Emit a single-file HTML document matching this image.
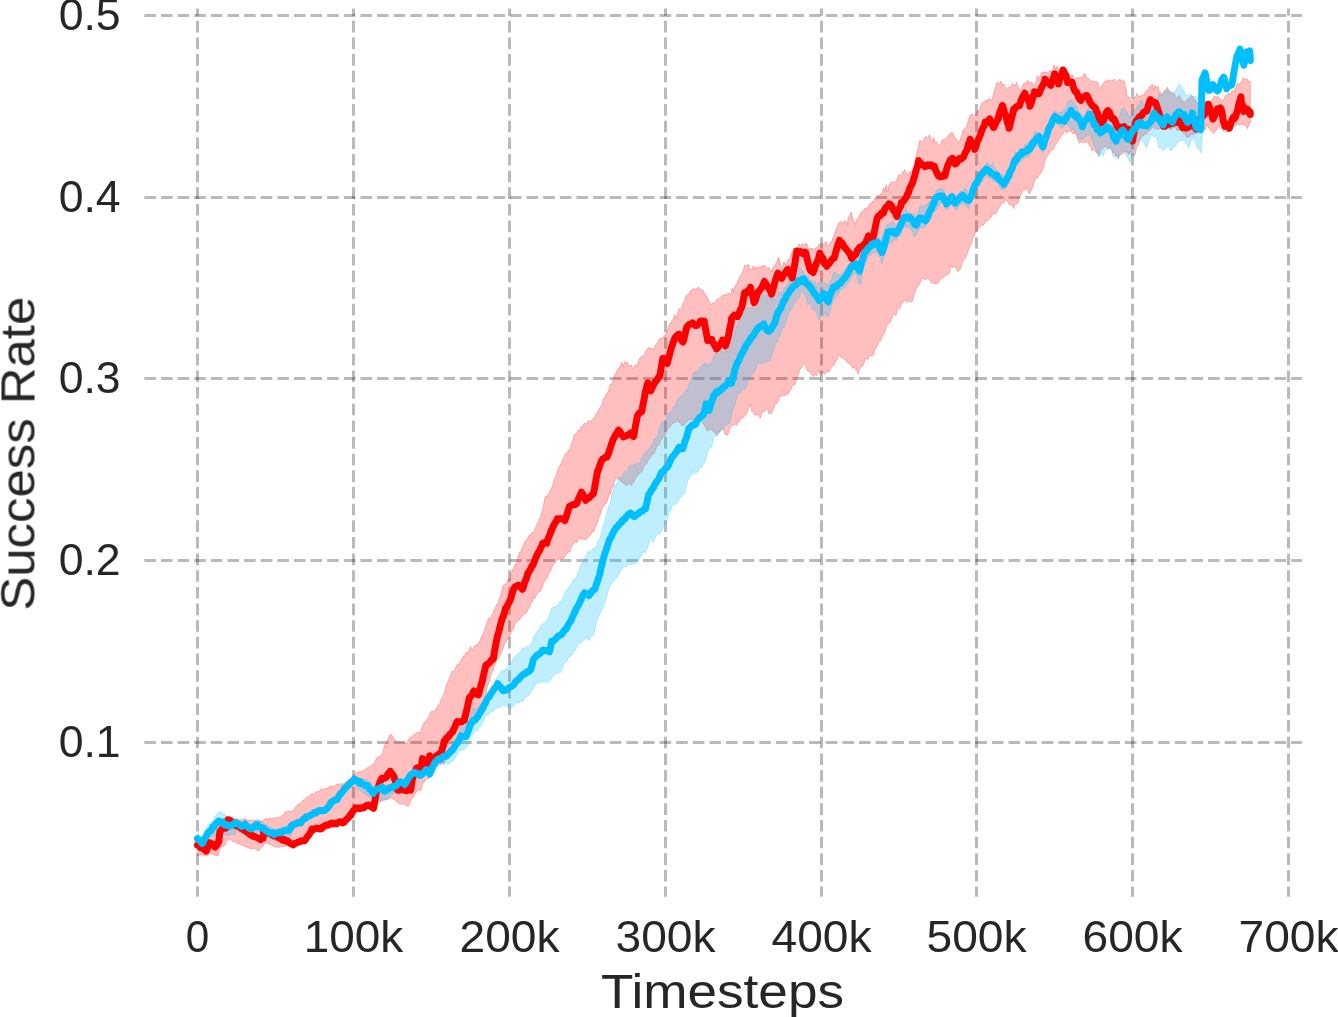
<!DOCTYPE html>
<html><head><meta charset="utf-8"><title>Success Rate vs Timesteps</title>
<style>
html,body{margin:0;padding:0;background:#fff;}
body{width:1338px;height:1017px;overflow:hidden;font-family:"Liberation Sans",sans-serif;}
svg{display:block;}
text{font-family:"Liberation Sans",sans-serif;fill:#262626;}
</style></head><body>
<svg width="1338" height="1017" viewBox="0 0 1338 1017">
<rect width="1338" height="1017" fill="#ffffff"/>
<g stroke="#000000" stroke-opacity="0.27" stroke-width="3" stroke-dasharray="11.6 5.02" fill="none"><line x1="197.50" y1="896.7" x2="197.50" y2="8.4" stroke-dasharray="11.62 5.03" stroke-dashoffset="1.5"/><line x1="353.50" y1="896.7" x2="353.50" y2="8.4" stroke-dasharray="11.62 5.03" stroke-dashoffset="1.5"/><line x1="509.50" y1="896.7" x2="509.50" y2="8.4" stroke-dasharray="11.62 5.03" stroke-dashoffset="1.5"/><line x1="665.50" y1="896.7" x2="665.50" y2="8.4" stroke-dasharray="11.62 5.03" stroke-dashoffset="1.5"/><line x1="821.50" y1="896.7" x2="821.50" y2="8.4" stroke-dasharray="11.62 5.03" stroke-dashoffset="1.5"/><line x1="976.50" y1="896.7" x2="976.50" y2="8.4" stroke-dasharray="11.62 5.03" stroke-dashoffset="1.5"/><line x1="1132.50" y1="896.7" x2="1132.50" y2="8.4" stroke-dasharray="11.62 5.03" stroke-dashoffset="1.5"/><line x1="1288.50" y1="896.7" x2="1288.50" y2="8.4" stroke-dasharray="11.62 5.03" stroke-dashoffset="1.5"/><line x1="144.35" y1="15.50" x2="1301.9" y2="15.50"/><line x1="144.35" y1="197.50" x2="1301.9" y2="197.50"/><line x1="144.35" y1="378.50" x2="1301.9" y2="378.50"/><line x1="144.35" y1="560.50" x2="1301.9" y2="560.50"/><line x1="144.35" y1="742.50" x2="1301.9" y2="742.50"/></g>
<path d="M197.4,838.7 L198.8,839.3 L200.2,841.2 L201.6,841.0 L203.0,841.7 L204.4,838.6 L205.8,835.1 L207.2,833.2 L208.6,830.1 L210.0,829.4 L211.4,827.3 L212.8,825.8 L214.2,825.0 L215.6,824.3 L217.0,821.5 L218.4,820.2 L219.8,819.9 L221.2,820.2 L222.6,819.1 L224.0,818.3 L225.4,819.1 L226.8,816.9 L228.2,818.1 L229.6,817.2 L231.0,817.2 L232.4,817.4 L233.8,818.0 L235.2,819.3 L236.6,818.3 L238.0,819.3 L239.4,819.7 L240.8,819.4 L242.2,819.9 L243.6,819.1 L245.0,819.1 L246.4,819.5 L247.8,820.5 L249.2,820.1 L250.6,820.0 L252.0,820.6 L253.4,820.4 L254.8,820.2 L256.2,821.2 L257.6,821.1 L259.0,820.3 L260.4,821.1 L261.8,821.0 L263.2,820.3 L264.6,819.0 L266.0,818.2 L267.4,819.5 L268.8,817.8 L270.2,818.4 L271.6,819.1 L273.0,817.9 L274.4,818.4 L275.8,817.1 L277.2,817.9 L278.6,817.7 L280.0,816.9 L281.4,817.1 L282.8,814.9 L284.2,813.8 L285.6,811.7 L287.0,811.4 L288.4,810.9 L289.8,811.5 L291.2,811.5 L292.6,810.4 L294.0,810.6 L295.4,807.1 L296.8,806.0 L298.2,804.2 L299.6,803.9 L301.0,802.6 L302.4,800.6 L303.8,799.9 L305.2,799.5 L306.6,797.2 L308.0,797.0 L309.4,795.4 L310.8,794.5 L312.2,793.7 L313.6,794.4 L315.0,792.4 L316.4,792.0 L317.8,791.5 L319.2,791.8 L320.6,789.5 L322.0,789.6 L323.4,789.1 L324.8,789.0 L326.2,788.4 L327.6,788.1 L329.0,786.6 L330.4,786.5 L331.8,786.0 L333.2,786.6 L334.6,786.4 L336.0,784.4 L337.4,784.2 L338.8,784.0 L340.2,783.8 L341.6,784.0 L343.0,784.0 L344.4,783.0 L345.8,782.0 L347.2,781.4 L348.6,779.8 L350.0,778.8 L351.4,778.1 L352.8,776.1 L354.2,774.4 L355.6,773.2 L357.0,772.7 L358.4,771.0 L359.8,772.1 L361.2,771.4 L362.6,771.0 L364.0,770.4 L365.4,769.0 L366.8,768.3 L368.2,767.0 L369.6,767.4 L371.0,765.5 L372.4,764.9 L373.8,764.4 L375.2,761.3 L376.6,758.0 L378.0,756.9 L379.4,756.2 L380.8,755.9 L382.2,754.0 L383.6,748.9 L385.0,744.2 L386.4,743.1 L387.8,739.8 L389.2,736.3 L390.6,734.0 L392.0,735.6 L393.4,737.9 L394.8,739.6 L396.2,741.7 L397.6,742.4 L399.0,741.7 L400.4,742.1 L401.8,741.7 L403.2,742.1 L404.6,743.0 L406.0,742.9 L407.4,742.2 L408.8,739.0 L410.2,736.9 L411.6,737.0 L413.0,735.3 L414.4,733.8 L415.8,733.9 L417.2,732.2 L418.6,732.5 L420.0,732.7 L421.4,728.9 L422.8,725.2 L424.2,722.6 L425.6,721.1 L427.0,719.1 L428.4,718.6 L429.8,714.1 L431.2,711.7 L432.6,710.8 L434.0,712.3 L435.4,709.9 L436.8,707.7 L438.2,705.1 L439.6,703.7 L441.0,700.1 L442.4,697.3 L443.8,694.2 L445.2,689.2 L446.6,684.4 L448.0,681.4 L449.4,677.9 L450.8,674.5 L452.2,671.0 L453.6,671.5 L455.0,669.2 L456.4,665.6 L457.8,664.2 L459.2,664.2 L460.6,660.6 L462.0,659.5 L463.4,655.9 L464.8,656.1 L466.2,652.0 L467.6,653.2 L469.0,650.3 L470.4,646.6 L471.8,649.9 L473.2,648.7 L474.6,645.7 L476.0,644.9 L477.4,644.7 L478.8,642.5 L480.2,640.6 L481.6,635.9 L483.0,633.8 L484.4,630.5 L485.8,626.0 L487.2,622.0 L488.6,618.5 L490.0,618.3 L491.4,616.0 L492.8,613.4 L494.2,609.7 L495.6,606.7 L497.0,604.3 L498.4,602.0 L499.8,598.0 L501.2,593.6 L502.6,587.1 L504.0,585.0 L505.4,584.5 L506.8,582.6 L508.2,579.2 L509.6,579.4 L511.0,574.1 L512.4,569.8 L513.8,567.8 L515.2,564.1 L516.6,562.9 L518.0,557.3 L519.4,552.4 L520.8,552.1 L522.2,547.6 L523.6,544.9 L525.0,541.3 L526.4,540.0 L527.8,537.9 L529.2,535.0 L530.6,535.3 L532.0,532.3 L533.4,533.0 L534.8,529.6 L536.2,526.0 L537.6,523.1 L539.0,519.9 L540.4,517.4 L541.8,511.8 L543.2,507.9 L544.6,498.3 L546.0,495.9 L547.4,496.1 L548.8,493.1 L550.2,491.1 L551.6,488.0 L553.0,484.1 L554.4,479.1 L555.8,476.3 L557.2,471.6 L558.6,467.9 L560.0,465.2 L561.4,463.0 L562.8,458.7 L564.2,457.1 L565.6,453.2 L567.0,454.2 L568.4,450.3 L569.8,448.9 L571.2,444.7 L572.6,441.2 L574.0,435.7 L575.4,433.8 L576.8,434.0 L578.2,430.1 L579.6,430.9 L581.0,426.4 L582.4,427.5 L583.8,423.7 L585.2,423.2 L586.6,423.9 L588.0,421.0 L589.4,421.0 L590.8,421.8 L592.2,419.6 L593.6,419.0 L595.0,416.8 L596.4,413.5 L597.8,411.6 L599.2,409.4 L600.6,406.8 L602.0,404.2 L603.4,398.7 L604.8,398.4 L606.2,393.8 L607.6,393.1 L609.0,389.4 L610.4,384.1 L611.8,384.4 L613.2,380.4 L614.6,374.8 L616.0,372.6 L617.4,370.2 L618.8,367.6 L620.2,367.3 L621.6,362.2 L623.0,366.9 L624.4,361.6 L625.8,364.4 L627.2,361.7 L628.6,365.4 L630.0,365.7 L631.4,365.1 L632.8,368.7 L634.2,366.9 L635.6,364.6 L637.0,366.5 L638.4,361.1 L639.8,357.8 L641.2,357.0 L642.6,355.8 L644.0,356.5 L645.4,351.3 L646.8,350.6 L648.2,347.7 L649.6,348.0 L651.0,348.7 L652.4,348.2 L653.8,350.4 L655.2,345.3 L656.6,343.6 L658.0,341.9 L659.4,338.6 L660.8,338.3 L662.2,337.7 L663.6,336.9 L665.0,335.3 L666.4,331.7 L667.8,329.0 L669.2,325.1 L670.6,323.1 L672.0,320.5 L673.4,319.1 L674.8,314.7 L676.2,318.6 L677.6,313.6 L679.0,308.7 L680.4,308.9 L681.8,307.5 L683.2,302.3 L684.6,301.2 L686.0,295.7 L687.4,294.9 L688.8,294.1 L690.2,291.0 L691.6,290.8 L693.0,288.6 L694.4,289.3 L695.8,289.0 L697.2,288.0 L698.6,286.9 L700.0,289.5 L701.4,289.2 L702.8,290.3 L704.2,292.6 L705.6,295.1 L707.0,297.1 L708.4,300.3 L709.8,302.4 L711.2,304.7 L712.6,303.0 L714.0,303.6 L715.4,302.2 L716.8,299.5 L718.2,299.3 L719.6,297.7 L721.0,297.3 L722.4,295.1 L723.8,295.9 L725.2,294.0 L726.6,295.6 L728.0,293.0 L729.4,293.5 L730.8,294.9 L732.2,287.8 L733.6,292.4 L735.0,285.6 L736.4,285.6 L737.8,280.9 L739.2,278.2 L740.6,275.0 L742.0,274.8 L743.4,269.2 L744.8,265.1 L746.2,266.2 L747.6,264.4 L749.0,264.9 L750.4,269.6 L751.8,269.8 L753.2,265.6 L754.6,270.1 L756.0,266.8 L757.4,267.8 L758.8,266.6 L760.2,268.1 L761.6,265.8 L763.0,265.8 L764.4,265.1 L765.8,267.0 L767.2,268.7 L768.6,267.0 L770.0,268.9 L771.4,271.9 L772.8,267.4 L774.2,267.0 L775.6,263.7 L777.0,261.2 L778.4,257.3 L779.8,261.1 L781.2,267.7 L782.6,266.8 L784.0,261.3 L785.4,264.8 L786.8,263.1 L788.2,259.2 L789.6,258.9 L791.0,253.3 L792.4,251.7 L793.8,248.2 L795.2,252.0 L796.6,248.2 L798.0,246.5 L799.4,244.2 L800.8,246.8 L802.2,243.7 L803.6,244.2 L805.0,244.9 L806.4,243.1 L807.8,245.9 L809.2,249.9 L810.6,248.8 L812.0,248.3 L813.4,249.5 L814.8,248.5 L816.2,247.9 L817.6,246.6 L819.0,244.9 L820.4,243.7 L821.8,243.3 L823.2,244.6 L824.6,243.7 L826.0,241.3 L827.4,246.1 L828.8,246.2 L830.2,242.3 L831.6,241.8 L833.0,237.2 L834.4,234.8 L835.8,229.8 L837.2,226.5 L838.6,223.2 L840.0,222.1 L841.4,221.8 L842.8,224.2 L844.2,221.2 L845.6,221.6 L847.0,224.8 L848.4,217.3 L849.8,215.7 L851.2,211.8 L852.6,218.5 L854.0,221.5 L855.4,224.4 L856.8,219.4 L858.2,218.8 L859.6,215.3 L861.0,212.2 L862.4,211.1 L863.8,210.8 L865.2,208.0 L866.6,208.5 L868.0,207.6 L869.4,203.9 L870.8,204.3 L872.2,201.5 L873.6,201.5 L875.0,197.9 L876.4,199.6 L877.8,195.1 L879.2,196.5 L880.6,193.7 L882.0,194.3 L883.4,187.8 L884.8,191.3 L886.2,184.6 L887.6,191.7 L889.0,184.7 L890.4,183.3 L891.8,181.6 L893.2,182.7 L894.6,181.5 L896.0,182.4 L897.4,178.0 L898.8,174.8 L900.2,175.6 L901.6,174.0 L903.0,172.5 L904.4,169.6 L905.8,171.2 L907.2,174.7 L908.6,175.7 L910.0,171.2 L911.4,173.4 L912.8,169.0 L914.2,164.9 L915.6,158.2 L917.0,152.3 L918.4,146.4 L919.8,140.3 L921.2,141.2 L922.6,141.4 L924.0,139.5 L925.4,136.5 L926.8,137.5 L928.2,137.2 L929.6,134.7 L931.0,138.9 L932.4,142.3 L933.8,137.7 L935.2,142.4 L936.6,141.8 L938.0,144.3 L939.4,146.0 L940.8,143.8 L942.2,139.5 L943.6,140.2 L945.0,139.1 L946.4,137.9 L947.8,136.0 L949.2,134.1 L950.6,134.3 L952.0,131.8 L953.4,133.9 L954.8,138.2 L956.2,138.8 L957.6,141.1 L959.0,142.3 L960.4,139.4 L961.8,134.7 L963.2,129.7 L964.6,129.5 L966.0,127.7 L967.4,124.5 L968.8,118.4 L970.2,114.9 L971.6,114.2 L973.0,114.4 L974.4,116.3 L975.8,114.6 L977.2,110.6 L978.6,110.0 L980.0,108.9 L981.4,103.3 L982.8,102.9 L984.2,101.8 L985.6,99.9 L987.0,101.1 L988.4,98.3 L989.8,99.6 L991.2,100.2 L992.6,97.2 L994.0,91.8 L995.4,87.7 L996.8,82.3 L998.2,84.7 L999.6,82.4 L1001.0,81.1 L1002.4,85.0 L1003.8,84.0 L1005.2,86.9 L1006.6,89.7 L1008.0,88.8 L1009.4,86.5 L1010.8,87.7 L1012.2,83.5 L1013.6,84.8 L1015.0,85.8 L1016.4,82.2 L1017.8,85.7 L1019.2,89.6 L1020.6,89.4 L1022.0,87.5 L1023.4,83.8 L1024.8,82.8 L1026.2,83.2 L1027.6,80.1 L1029.0,83.2 L1030.4,81.9 L1031.8,82.4 L1033.2,84.9 L1034.6,85.1 L1036.0,81.9 L1037.4,75.7 L1038.8,77.5 L1040.2,75.9 L1041.6,72.5 L1043.0,72.5 L1044.4,72.2 L1045.8,72.3 L1047.2,72.6 L1048.6,73.5 L1050.0,70.1 L1051.4,72.5 L1052.8,68.9 L1054.2,65.0 L1055.6,69.5 L1057.0,65.9 L1058.4,69.2 L1059.8,69.7 L1061.2,69.0 L1062.6,72.5 L1064.0,72.3 L1065.4,72.4 L1066.8,73.1 L1068.2,76.0 L1069.6,75.1 L1071.0,75.5 L1072.4,74.5 L1073.8,82.0 L1075.2,79.2 L1076.6,77.8 L1078.0,78.0 L1079.4,77.4 L1080.8,77.1 L1082.2,77.7 L1083.6,74.6 L1085.0,73.6 L1086.4,76.8 L1087.8,78.3 L1089.2,79.2 L1090.6,80.5 L1092.0,81.2 L1093.4,81.1 L1094.8,81.8 L1096.2,81.5 L1097.6,82.5 L1099.0,87.5 L1100.4,88.1 L1101.8,85.6 L1103.2,83.8 L1104.6,81.7 L1106.0,80.6 L1107.4,81.3 L1108.8,79.4 L1110.2,81.0 L1111.6,80.3 L1113.0,80.3 L1114.4,79.2 L1115.8,81.7 L1117.2,81.9 L1118.6,79.4 L1120.0,79.8 L1121.4,80.1 L1122.8,81.1 L1124.2,80.9 L1125.6,86.8 L1127.0,96.0 L1128.4,96.2 L1129.8,98.4 L1131.2,101.2 L1132.6,101.2 L1134.0,97.7 L1135.4,96.6 L1136.8,93.5 L1138.2,96.3 L1139.6,96.1 L1141.0,96.2 L1142.4,94.3 L1143.8,95.9 L1145.2,92.0 L1146.6,90.1 L1148.0,91.2 L1149.4,86.5 L1150.8,86.9 L1152.2,84.0 L1153.6,90.1 L1155.0,85.1 L1156.4,88.2 L1157.8,86.4 L1159.2,90.3 L1160.6,92.6 L1162.0,95.1 L1163.4,92.2 L1164.8,90.1 L1166.2,89.3 L1167.6,87.0 L1169.0,91.4 L1170.4,92.3 L1171.8,93.1 L1173.2,92.5 L1174.6,94.4 L1176.0,97.2 L1177.4,97.8 L1178.8,95.7 L1180.2,96.5 L1181.6,98.9 L1183.0,102.6 L1184.4,101.6 L1185.8,102.4 L1187.2,99.2 L1188.6,98.7 L1190.0,97.1 L1191.4,95.5 L1192.8,96.9 L1194.2,100.0 L1195.6,100.3 L1197.0,103.5 L1198.4,103.6 L1199.8,102.6 L1201.2,100.8 L1202.6,100.7 L1204.0,104.5 L1205.4,100.9 L1206.8,101.1 L1208.2,101.4 L1209.6,103.5 L1211.0,102.6 L1212.4,99.4 L1213.8,96.8 L1215.2,96.2 L1216.6,97.3 L1218.0,96.2 L1219.4,98.9 L1220.8,99.0 L1222.2,101.6 L1223.6,99.4 L1225.0,96.6 L1226.4,95.0 L1227.8,93.5 L1229.2,92.9 L1230.6,95.0 L1232.0,91.0 L1233.4,91.5 L1234.8,89.5 L1236.2,86.1 L1237.6,82.9 L1239.0,84.5 L1240.4,83.3 L1241.8,80.4 L1243.2,77.8 L1244.6,78.8 L1246.0,79.6 L1247.4,79.3 L1248.8,81.5 L1250.2,81.3 L1250.3,81.6 L1250.3,122.7 L1250.2,121.4 L1248.8,124.6 L1247.4,128.7 L1246.0,125.1 L1244.6,125.4 L1243.2,125.1 L1241.8,123.0 L1240.4,125.1 L1239.0,125.1 L1237.6,122.2 L1236.2,126.0 L1234.8,124.0 L1233.4,125.6 L1232.0,130.3 L1230.6,128.4 L1229.2,131.5 L1227.8,131.4 L1226.4,131.0 L1225.0,128.6 L1223.6,131.4 L1222.2,127.6 L1220.8,128.5 L1219.4,126.7 L1218.0,125.7 L1216.6,129.9 L1215.2,130.9 L1213.8,133.6 L1212.4,131.6 L1211.0,130.6 L1209.6,129.1 L1208.2,127.8 L1206.8,123.9 L1205.4,129.8 L1204.0,127.9 L1202.6,131.1 L1201.2,132.5 L1199.8,133.2 L1198.4,132.0 L1197.0,133.2 L1195.6,134.3 L1194.2,132.7 L1192.8,135.2 L1191.4,133.9 L1190.0,136.7 L1188.6,136.4 L1187.2,137.5 L1185.8,135.7 L1184.4,133.7 L1183.0,133.1 L1181.6,130.7 L1180.2,130.3 L1178.8,129.6 L1177.4,130.9 L1176.0,127.9 L1174.6,127.0 L1173.2,127.3 L1171.8,129.3 L1170.4,129.3 L1169.0,128.9 L1167.6,128.4 L1166.2,129.8 L1164.8,130.1 L1163.4,128.9 L1162.0,129.3 L1160.6,128.3 L1159.2,128.4 L1157.8,129.5 L1156.4,128.1 L1155.0,129.5 L1153.6,126.5 L1152.2,127.1 L1150.8,129.8 L1149.4,131.0 L1148.0,130.1 L1146.6,134.3 L1145.2,132.7 L1143.8,135.8 L1142.4,135.9 L1141.0,137.3 L1139.6,141.1 L1138.2,145.4 L1136.8,146.2 L1135.4,153.5 L1134.0,155.9 L1132.6,153.6 L1131.2,154.5 L1129.8,151.4 L1128.4,154.8 L1127.0,151.3 L1125.6,152.1 L1124.2,151.3 L1122.8,154.0 L1121.4,154.7 L1120.0,154.4 L1118.6,158.2 L1117.2,154.4 L1115.8,156.2 L1114.4,152.1 L1113.0,153.1 L1111.6,149.3 L1110.2,145.9 L1108.8,149.0 L1107.4,148.4 L1106.0,145.3 L1104.6,147.0 L1103.2,148.2 L1101.8,149.5 L1100.4,151.1 L1099.0,155.4 L1097.6,151.7 L1096.2,152.9 L1094.8,150.5 L1093.4,149.1 L1092.0,150.9 L1090.6,146.6 L1089.2,145.2 L1087.8,141.1 L1086.4,142.5 L1085.0,142.4 L1083.6,142.3 L1082.2,142.2 L1080.8,141.2 L1079.4,143.4 L1078.0,140.5 L1076.6,135.9 L1075.2,132.1 L1073.8,133.9 L1072.4,133.6 L1071.0,130.7 L1069.6,131.5 L1068.2,130.2 L1066.8,133.1 L1065.4,130.3 L1064.0,131.9 L1062.6,134.2 L1061.2,136.0 L1059.8,138.4 L1058.4,139.9 L1057.0,142.8 L1055.6,144.3 L1054.2,147.0 L1052.8,150.0 L1051.4,150.0 L1050.0,151.4 L1048.6,154.6 L1047.2,156.3 L1045.8,158.2 L1044.4,164.1 L1043.0,168.9 L1041.6,172.3 L1040.2,173.9 L1038.8,175.1 L1037.4,178.2 L1036.0,177.9 L1034.6,180.2 L1033.2,186.4 L1031.8,188.7 L1030.4,192.7 L1029.0,193.8 L1027.6,190.3 L1026.2,187.1 L1024.8,190.3 L1023.4,188.8 L1022.0,193.3 L1020.6,194.1 L1019.2,198.4 L1017.8,203.1 L1016.4,203.9 L1015.0,204.2 L1013.6,208.6 L1012.2,206.0 L1010.8,204.0 L1009.4,205.3 L1008.0,201.2 L1006.6,200.9 L1005.2,198.7 L1003.8,203.6 L1002.4,202.1 L1001.0,204.3 L999.6,207.3 L998.2,208.7 L996.8,212.3 L995.4,214.0 L994.0,213.8 L992.6,213.9 L991.2,217.2 L989.8,218.2 L988.4,220.3 L987.0,221.0 L985.6,221.2 L984.2,224.2 L982.8,225.5 L981.4,225.4 L980.0,226.7 L978.6,228.2 L977.2,230.4 L975.8,231.5 L974.4,235.4 L973.0,237.6 L971.6,243.3 L970.2,245.5 L968.8,249.0 L967.4,253.3 L966.0,256.8 L964.6,259.5 L963.2,260.0 L961.8,264.6 L960.4,268.4 L959.0,270.7 L957.6,271.6 L956.2,268.2 L954.8,267.0 L953.4,266.9 L952.0,267.5 L950.6,265.4 L949.2,273.7 L947.8,274.9 L946.4,275.1 L945.0,275.3 L943.6,277.3 L942.2,277.9 L940.8,279.4 L939.4,280.8 L938.0,283.1 L936.6,284.0 L935.2,284.2 L933.8,282.3 L932.4,283.7 L931.0,281.9 L929.6,279.8 L928.2,277.2 L926.8,278.8 L925.4,280.1 L924.0,278.2 L922.6,278.8 L921.2,280.0 L919.8,283.4 L918.4,285.9 L917.0,286.9 L915.6,290.5 L914.2,293.9 L912.8,300.4 L911.4,302.0 L910.0,302.2 L908.6,299.6 L907.2,302.4 L905.8,299.9 L904.4,300.3 L903.0,302.7 L901.6,303.6 L900.2,307.8 L898.8,309.0 L897.4,309.2 L896.0,315.7 L894.6,314.3 L893.2,314.5 L891.8,318.1 L890.4,322.5 L889.0,322.8 L887.6,324.3 L886.2,326.9 L884.8,332.5 L883.4,334.5 L882.0,337.0 L880.6,340.7 L879.2,340.8 L877.8,343.9 L876.4,348.0 L875.0,348.3 L873.6,354.8 L872.2,355.8 L870.8,355.8 L869.4,355.7 L868.0,359.4 L866.6,358.9 L865.2,359.2 L863.8,363.9 L862.4,366.7 L861.0,366.5 L859.6,368.8 L858.2,374.0 L856.8,370.8 L855.4,369.1 L854.0,366.9 L852.6,368.4 L851.2,365.8 L849.8,363.3 L848.4,363.2 L847.0,362.0 L845.6,360.2 L844.2,359.2 L842.8,357.5 L841.4,357.5 L840.0,356.6 L838.6,355.2 L837.2,359.7 L835.8,360.7 L834.4,364.8 L833.0,365.8 L831.6,367.3 L830.2,369.0 L828.8,372.8 L827.4,371.0 L826.0,371.7 L824.6,374.3 L823.2,372.0 L821.8,372.7 L820.4,375.2 L819.0,370.3 L817.6,373.0 L816.2,375.9 L814.8,373.8 L813.4,376.5 L812.0,375.4 L810.6,373.5 L809.2,371.2 L807.8,371.3 L806.4,368.2 L805.0,364.5 L803.6,362.9 L802.2,366.2 L800.8,367.9 L799.4,371.1 L798.0,375.1 L796.6,379.4 L795.2,384.8 L793.8,384.0 L792.4,386.1 L791.0,389.7 L789.6,391.0 L788.2,394.5 L786.8,393.1 L785.4,395.7 L784.0,395.1 L782.6,396.1 L781.2,396.0 L779.8,396.3 L778.4,400.5 L777.0,403.3 L775.6,403.5 L774.2,406.7 L772.8,411.3 L771.4,413.9 L770.0,413.0 L768.6,413.7 L767.2,407.8 L765.8,409.5 L764.4,411.8 L763.0,410.4 L761.6,413.4 L760.2,418.0 L758.8,414.8 L757.4,414.8 L756.0,415.4 L754.6,414.9 L753.2,412.8 L751.8,411.1 L750.4,404.5 L749.0,407.6 L747.6,410.6 L746.2,414.8 L744.8,415.6 L743.4,417.4 L742.0,418.2 L740.6,418.2 L739.2,422.4 L737.8,421.1 L736.4,425.6 L735.0,423.8 L733.6,425.5 L732.2,424.6 L730.8,427.5 L729.4,429.1 L728.0,434.5 L726.6,435.2 L725.2,434.2 L723.8,430.7 L722.4,427.8 L721.0,429.2 L719.6,432.3 L718.2,431.7 L716.8,435.0 L715.4,433.4 L714.0,432.3 L712.6,430.7 L711.2,429.0 L709.8,429.6 L708.4,430.5 L707.0,430.6 L705.6,427.4 L704.2,424.6 L702.8,423.5 L701.4,419.6 L700.0,419.4 L698.6,422.0 L697.2,420.5 L695.8,420.0 L694.4,421.2 L693.0,419.5 L691.6,419.3 L690.2,420.1 L688.8,419.0 L687.4,421.6 L686.0,422.4 L684.6,424.8 L683.2,425.1 L681.8,425.5 L680.4,422.4 L679.0,423.0 L677.6,418.9 L676.2,422.3 L674.8,422.5 L673.4,423.1 L672.0,423.8 L670.6,426.2 L669.2,427.9 L667.8,429.5 L666.4,431.2 L665.0,436.6 L663.6,435.6 L662.2,438.9 L660.8,439.7 L659.4,444.5 L658.0,445.0 L656.6,447.4 L655.2,450.8 L653.8,454.3 L652.4,453.5 L651.0,456.8 L649.6,458.2 L648.2,460.5 L646.8,463.5 L645.4,464.9 L644.0,466.1 L642.6,469.5 L641.2,472.6 L639.8,472.0 L638.4,474.7 L637.0,476.7 L635.6,478.0 L634.2,481.5 L632.8,482.5 L631.4,485.9 L630.0,482.9 L628.6,483.6 L627.2,485.9 L625.8,484.3 L624.4,484.5 L623.0,482.8 L621.6,481.9 L620.2,480.4 L618.8,478.1 L617.4,479.4 L616.0,477.5 L614.6,480.9 L613.2,485.5 L611.8,489.2 L610.4,494.5 L609.0,493.9 L607.6,500.4 L606.2,503.4 L604.8,503.9 L603.4,506.8 L602.0,508.0 L600.6,514.6 L599.2,515.8 L597.8,520.7 L596.4,525.2 L595.0,527.6 L593.6,531.8 L592.2,531.5 L590.8,534.9 L589.4,535.9 L588.0,537.4 L586.6,539.3 L585.2,539.1 L583.8,539.9 L582.4,538.3 L581.0,539.5 L579.6,536.8 L578.2,539.7 L576.8,542.4 L575.4,541.2 L574.0,543.5 L572.6,544.8 L571.2,547.6 L569.8,552.5 L568.4,550.9 L567.0,554.0 L565.6,554.9 L564.2,557.9 L562.8,558.6 L561.4,559.3 L560.0,557.7 L558.6,559.7 L557.2,559.3 L555.8,561.9 L554.4,563.5 L553.0,564.8 L551.6,568.2 L550.2,572.0 L548.8,573.0 L547.4,577.6 L546.0,579.5 L544.6,580.6 L543.2,584.6 L541.8,588.3 L540.4,591.2 L539.0,591.9 L537.6,593.5 L536.2,595.3 L534.8,598.8 L533.4,596.9 L532.0,602.8 L530.6,604.2 L529.2,607.2 L527.8,610.1 L526.4,613.0 L525.0,613.6 L523.6,615.0 L522.2,616.5 L520.8,617.0 L519.4,620.3 L518.0,620.1 L516.6,622.2 L515.2,623.6 L513.8,628.0 L512.4,630.2 L511.0,632.7 L509.6,636.3 L508.2,638.7 L506.8,640.4 L505.4,642.3 L504.0,645.3 L502.6,650.3 L501.2,653.0 L499.8,655.6 L498.4,657.2 L497.0,660.0 L495.6,663.0 L494.2,666.4 L492.8,671.5 L491.4,673.5 L490.0,678.9 L488.6,684.0 L487.2,686.8 L485.8,697.8 L484.4,704.8 L483.0,710.3 L481.6,715.4 L480.2,715.4 L478.8,718.4 L477.4,722.4 L476.0,722.5 L474.6,721.7 L473.2,723.6 L471.8,727.5 L470.4,728.5 L469.0,729.3 L467.6,735.7 L466.2,737.9 L464.8,739.5 L463.4,738.4 L462.0,741.0 L460.6,740.6 L459.2,743.8 L457.8,743.6 L456.4,747.8 L455.0,750.7 L453.6,750.7 L452.2,754.5 L450.8,755.3 L449.4,757.0 L448.0,758.4 L446.6,759.6 L445.2,761.3 L443.8,763.4 L442.4,763.4 L441.0,764.8 L439.6,763.8 L438.2,766.5 L436.8,765.7 L435.4,767.4 L434.0,770.6 L432.6,774.3 L431.2,775.0 L429.8,777.9 L428.4,778.5 L427.0,778.6 L425.6,780.1 L424.2,782.2 L422.8,782.7 L421.4,789.8 L420.0,790.7 L418.6,789.9 L417.2,790.9 L415.8,792.9 L414.4,795.2 L413.0,797.7 L411.6,798.6 L410.2,803.1 L408.8,805.8 L407.4,806.3 L406.0,805.5 L404.6,804.6 L403.2,803.6 L401.8,803.6 L400.4,804.1 L399.0,803.8 L397.6,802.2 L396.2,801.3 L394.8,799.6 L393.4,799.5 L392.0,798.0 L390.6,798.0 L389.2,798.7 L387.8,799.4 L386.4,799.9 L385.0,799.4 L383.6,799.2 L382.2,800.9 L380.8,801.4 L379.4,802.6 L378.0,801.5 L376.6,803.5 L375.2,807.3 L373.8,811.0 L372.4,811.4 L371.0,810.2 L369.6,808.6 L368.2,808.2 L366.8,809.2 L365.4,809.7 L364.0,809.7 L362.6,810.9 L361.2,809.9 L359.8,811.2 L358.4,811.1 L357.0,811.6 L355.6,811.5 L354.2,812.6 L352.8,815.2 L351.4,817.7 L350.0,817.9 L348.6,820.3 L347.2,820.8 L345.8,821.7 L344.4,824.5 L343.0,825.5 L341.6,824.4 L340.2,824.6 L338.8,826.1 L337.4,826.8 L336.0,825.6 L334.6,827.1 L333.2,826.4 L331.8,827.5 L330.4,827.9 L329.0,827.3 L327.6,829.2 L326.2,830.0 L324.8,830.3 L323.4,830.9 L322.0,830.1 L320.6,830.6 L319.2,831.9 L317.8,831.1 L316.4,832.2 L315.0,831.0 L313.6,831.4 L312.2,833.1 L310.8,833.3 L309.4,837.1 L308.0,837.6 L306.6,840.8 L305.2,841.5 L303.8,842.4 L302.4,843.1 L301.0,843.7 L299.6,845.0 L298.2,844.3 L296.8,845.3 L295.4,845.9 L294.0,847.3 L292.6,847.5 L291.2,846.6 L289.8,846.0 L288.4,845.0 L287.0,845.6 L285.6,846.4 L284.2,846.1 L282.8,847.1 L281.4,846.2 L280.0,846.5 L278.6,848.0 L277.2,846.5 L275.8,847.7 L274.4,846.6 L273.0,845.7 L271.6,844.9 L270.2,844.6 L268.8,843.9 L267.4,843.3 L266.0,843.3 L264.6,843.3 L263.2,846.0 L261.8,846.8 L260.4,848.6 L259.0,850.4 L257.6,850.7 L256.2,848.9 L254.8,848.8 L253.4,848.3 L252.0,849.3 L250.6,848.3 L249.2,848.4 L247.8,847.0 L246.4,847.2 L245.0,846.4 L243.6,846.0 L242.2,845.2 L240.8,844.6 L239.4,843.9 L238.0,843.8 L236.6,843.0 L235.2,842.1 L233.8,841.4 L232.4,841.6 L231.0,839.7 L229.6,838.9 L228.2,839.2 L226.8,841.2 L225.4,844.2 L224.0,846.0 L222.6,846.8 L221.2,846.5 L219.8,849.6 L218.4,855.5 L217.0,855.9 L215.6,855.8 L214.2,854.9 L212.8,854.0 L211.4,854.0 L210.0,853.3 L208.6,855.1 L207.2,855.4 L205.8,855.7 L204.4,855.5 L203.0,854.7 L201.6,855.2 L200.2,854.5 L198.8,855.9 L197.4,855.7Z" fill="#ff0000" fill-opacity="0.25" stroke="#ff0000" stroke-opacity="0.25" stroke-width="1" stroke-linejoin="round"/>
<path d="M197.4,832.8 L198.8,835.0 L200.2,836.6 L201.6,836.6 L203.0,836.9 L204.4,833.2 L205.8,829.7 L207.2,826.4 L208.6,823.8 L210.0,823.7 L211.4,822.2 L212.8,821.0 L214.2,817.4 L215.6,816.5 L217.0,813.9 L218.4,812.4 L219.8,811.3 L221.2,812.0 L222.6,814.2 L224.0,813.6 L225.4,815.9 L226.8,816.9 L228.2,817.1 L229.6,818.1 L231.0,819.5 L232.4,818.3 L233.8,819.2 L235.2,819.6 L236.6,819.6 L238.0,820.8 L239.4,821.0 L240.8,821.9 L242.2,822.6 L243.6,823.2 L245.0,823.0 L246.4,824.0 L247.8,824.3 L249.2,824.1 L250.6,825.2 L252.0,823.6 L253.4,823.2 L254.8,820.9 L256.2,819.8 L257.6,819.1 L259.0,820.1 L260.4,820.7 L261.8,821.6 L263.2,823.8 L264.6,823.9 L266.0,824.8 L267.4,825.6 L268.8,827.0 L270.2,826.8 L271.6,827.5 L273.0,829.5 L274.4,829.1 L275.8,829.1 L277.2,829.1 L278.6,828.8 L280.0,828.4 L281.4,826.6 L282.8,826.8 L284.2,827.2 L285.6,826.8 L287.0,825.2 L288.4,824.8 L289.8,824.2 L291.2,822.5 L292.6,821.6 L294.0,821.9 L295.4,821.1 L296.8,820.7 L298.2,819.7 L299.6,820.0 L301.0,820.7 L302.4,818.9 L303.8,817.1 L305.2,815.8 L306.6,815.2 L308.0,814.5 L309.4,812.7 L310.8,812.9 L312.2,811.7 L313.6,811.2 L315.0,810.1 L316.4,809.7 L317.8,809.1 L319.2,808.6 L320.6,807.4 L322.0,807.2 L323.4,807.6 L324.8,806.4 L326.2,806.3 L327.6,806.9 L329.0,803.5 L330.4,801.0 L331.8,799.2 L333.2,799.4 L334.6,797.2 L336.0,797.4 L337.4,796.6 L338.8,793.4 L340.2,791.7 L341.6,790.4 L343.0,788.2 L344.4,785.9 L345.8,784.0 L347.2,783.4 L348.6,781.9 L350.0,781.1 L351.4,779.0 L352.8,777.9 L354.2,776.9 L355.6,777.5 L357.0,777.2 L358.4,777.6 L359.8,778.2 L361.2,779.1 L362.6,778.1 L364.0,779.7 L365.4,779.5 L366.8,779.2 L368.2,780.6 L369.6,781.5 L371.0,782.6 L372.4,785.4 L373.8,785.8 L375.2,785.9 L376.6,785.6 L378.0,786.2 L379.4,785.7 L380.8,784.2 L382.2,785.0 L383.6,784.7 L385.0,784.7 L386.4,785.2 L387.8,784.4 L389.2,784.4 L390.6,785.1 L392.0,784.2 L393.4,783.8 L394.8,783.1 L396.2,782.8 L397.6,781.7 L399.0,781.0 L400.4,780.1 L401.8,779.8 L403.2,781.3 L404.6,781.4 L406.0,779.9 L407.4,778.1 L408.8,775.1 L410.2,773.5 L411.6,772.0 L413.0,772.3 L414.4,770.0 L415.8,769.5 L417.2,771.6 L418.6,772.1 L420.0,772.1 L421.4,772.1 L422.8,770.9 L424.2,769.2 L425.6,767.2 L427.0,769.0 L428.4,770.1 L429.8,771.6 L431.2,769.2 L432.6,765.4 L434.0,760.5 L435.4,757.9 L436.8,757.8 L438.2,757.0 L439.6,757.6 L441.0,756.1 L442.4,754.3 L443.8,755.8 L445.2,755.2 L446.6,755.5 L448.0,752.4 L449.4,749.5 L450.8,748.4 L452.2,747.7 L453.6,744.3 L455.0,743.8 L456.4,738.9 L457.8,734.7 L459.2,731.8 L460.6,727.0 L462.0,723.2 L463.4,722.4 L464.8,721.5 L466.2,721.8 L467.6,723.5 L469.0,721.1 L470.4,714.0 L471.8,713.3 L473.2,707.5 L474.6,710.1 L476.0,708.8 L477.4,708.9 L478.8,706.0 L480.2,704.5 L481.6,703.4 L483.0,701.8 L484.4,699.4 L485.8,697.9 L487.2,695.3 L488.6,692.9 L490.0,690.9 L491.4,686.8 L492.8,685.5 L494.2,681.8 L495.6,680.0 L497.0,677.0 L498.4,676.4 L499.8,674.1 L501.2,670.8 L502.6,670.0 L504.0,671.5 L505.4,669.1 L506.8,668.6 L508.2,667.0 L509.6,663.4 L511.0,662.5 L512.4,660.4 L513.8,657.1 L515.2,658.2 L516.6,654.3 L518.0,653.8 L519.4,652.9 L520.8,651.5 L522.2,648.4 L523.6,648.0 L525.0,649.3 L526.4,646.2 L527.8,648.2 L529.2,646.3 L530.6,644.6 L532.0,643.8 L533.4,636.4 L534.8,636.0 L536.2,632.8 L537.6,630.6 L539.0,629.3 L540.4,626.2 L541.8,624.5 L543.2,623.6 L544.6,623.2 L546.0,620.9 L547.4,620.6 L548.8,617.1 L550.2,612.5 L551.6,608.6 L553.0,607.2 L554.4,607.5 L555.8,606.0 L557.2,605.9 L558.6,603.9 L560.0,601.2 L561.4,601.9 L562.8,597.5 L564.2,594.9 L565.6,591.6 L567.0,590.6 L568.4,587.6 L569.8,587.2 L571.2,583.4 L572.6,581.2 L574.0,579.1 L575.4,578.8 L576.8,576.1 L578.2,571.9 L579.6,569.2 L581.0,564.8 L582.4,561.8 L583.8,561.9 L585.2,557.3 L586.6,554.7 L588.0,550.9 L589.4,552.8 L590.8,550.8 L592.2,549.1 L593.6,549.2 L595.0,547.2 L596.4,546.7 L597.8,541.8 L599.2,539.6 L600.6,536.1 L602.0,530.2 L603.4,525.0 L604.8,521.6 L606.2,515.3 L607.6,510.8 L609.0,506.1 L610.4,502.1 L611.8,495.0 L613.2,491.1 L614.6,484.4 L616.0,486.0 L617.4,482.0 L618.8,478.7 L620.2,476.6 L621.6,479.1 L623.0,474.7 L624.4,471.6 L625.8,472.0 L627.2,470.4 L628.6,467.2 L630.0,465.5 L631.4,464.9 L632.8,466.7 L634.2,463.7 L635.6,464.2 L637.0,462.8 L638.4,463.9 L639.8,463.1 L641.2,460.3 L642.6,455.4 L644.0,454.0 L645.4,453.0 L646.8,450.9 L648.2,449.5 L649.6,447.9 L651.0,446.8 L652.4,443.6 L653.8,440.9 L655.2,438.4 L656.6,437.2 L658.0,434.7 L659.4,427.0 L660.8,424.1 L662.2,421.0 L663.6,424.6 L665.0,420.2 L666.4,418.4 L667.8,414.4 L669.2,412.8 L670.6,413.4 L672.0,410.5 L673.4,406.9 L674.8,407.3 L676.2,403.0 L677.6,400.2 L679.0,397.8 L680.4,396.9 L681.8,395.6 L683.2,395.1 L684.6,392.9 L686.0,389.8 L687.4,389.4 L688.8,384.4 L690.2,381.4 L691.6,376.8 L693.0,373.8 L694.4,372.0 L695.8,371.7 L697.2,372.2 L698.6,368.7 L700.0,366.9 L701.4,368.1 L702.8,363.6 L704.2,364.7 L705.6,361.9 L707.0,367.2 L708.4,363.5 L709.8,364.9 L711.2,362.3 L712.6,360.1 L714.0,354.9 L715.4,354.1 L716.8,352.7 L718.2,353.7 L719.6,354.2 L721.0,348.2 L722.4,351.9 L723.8,353.3 L725.2,348.5 L726.6,351.7 L728.0,349.1 L729.4,346.2 L730.8,346.8 L732.2,341.7 L733.6,337.2 L735.0,332.6 L736.4,327.0 L737.8,323.0 L739.2,320.5 L740.6,317.3 L742.0,314.5 L743.4,312.1 L744.8,311.8 L746.2,307.8 L747.6,307.8 L749.0,307.9 L750.4,307.7 L751.8,307.7 L753.2,306.3 L754.6,308.4 L756.0,309.0 L757.4,305.8 L758.8,301.6 L760.2,298.0 L761.6,296.0 L763.0,293.5 L764.4,295.5 L765.8,294.9 L767.2,294.3 L768.6,297.1 L770.0,297.9 L771.4,300.1 L772.8,297.3 L774.2,298.7 L775.6,298.2 L777.0,295.9 L778.4,292.7 L779.8,291.5 L781.2,292.2 L782.6,290.5 L784.0,288.1 L785.4,287.5 L786.8,285.8 L788.2,282.5 L789.6,279.3 L791.0,277.1 L792.4,276.5 L793.8,273.3 L795.2,270.1 L796.6,268.0 L798.0,267.0 L799.4,266.9 L800.8,269.4 L802.2,269.7 L803.6,272.8 L805.0,274.6 L806.4,276.7 L807.8,275.1 L809.2,279.2 L810.6,280.4 L812.0,281.2 L813.4,282.6 L814.8,280.4 L816.2,288.0 L817.6,283.3 L819.0,282.0 L820.4,284.1 L821.8,281.5 L823.2,283.9 L824.6,282.7 L826.0,283.1 L827.4,284.9 L828.8,283.9 L830.2,281.3 L831.6,279.7 L833.0,272.7 L834.4,272.6 L835.8,271.8 L837.2,275.9 L838.6,274.2 L840.0,275.2 L841.4,273.1 L842.8,272.7 L844.2,270.0 L845.6,270.9 L847.0,267.8 L848.4,266.3 L849.8,264.7 L851.2,263.3 L852.6,261.1 L854.0,262.8 L855.4,261.9 L856.8,261.9 L858.2,259.0 L859.6,259.3 L861.0,255.8 L862.4,248.3 L863.8,245.8 L865.2,240.9 L866.6,237.8 L868.0,238.9 L869.4,237.1 L870.8,236.7 L872.2,238.6 L873.6,238.2 L875.0,232.4 L876.4,234.3 L877.8,235.4 L879.2,238.0 L880.6,242.8 L882.0,235.8 L883.4,233.4 L884.8,229.0 L886.2,225.1 L887.6,224.7 L889.0,223.8 L890.4,222.0 L891.8,222.6 L893.2,221.9 L894.6,224.2 L896.0,225.7 L897.4,223.6 L898.8,221.7 L900.2,223.3 L901.6,215.3 L903.0,211.9 L904.4,211.4 L905.8,208.1 L907.2,211.8 L908.6,212.3 L910.0,213.3 L911.4,213.7 L912.8,214.8 L914.2,213.3 L915.6,217.0 L917.0,215.5 L918.4,210.8 L919.8,206.6 L921.2,205.0 L922.6,206.6 L924.0,206.5 L925.4,204.7 L926.8,205.3 L928.2,202.9 L929.6,200.9 L931.0,200.9 L932.4,199.9 L933.8,195.7 L935.2,192.6 L936.6,189.9 L938.0,189.1 L939.4,189.7 L940.8,188.0 L942.2,188.6 L943.6,189.5 L945.0,193.5 L946.4,198.8 L947.8,196.7 L949.2,194.7 L950.6,193.5 L952.0,192.9 L953.4,193.2 L954.8,197.1 L956.2,195.6 L957.6,194.5 L959.0,193.3 L960.4,191.1 L961.8,191.5 L963.2,191.0 L964.6,187.8 L966.0,190.1 L967.4,190.4 L968.8,196.4 L970.2,193.3 L971.6,188.1 L973.0,183.6 L974.4,181.1 L975.8,179.4 L977.2,176.6 L978.6,172.6 L980.0,170.8 L981.4,168.2 L982.8,167.3 L984.2,166.5 L985.6,165.9 L987.0,162.3 L988.4,163.0 L989.8,164.8 L991.2,166.4 L992.6,162.3 L994.0,167.5 L995.4,167.9 L996.8,171.1 L998.2,170.8 L999.6,174.6 L1001.0,173.9 L1002.4,174.6 L1003.8,178.8 L1005.2,175.0 L1006.6,169.8 L1008.0,172.1 L1009.4,166.9 L1010.8,163.7 L1012.2,159.6 L1013.6,159.3 L1015.0,152.5 L1016.4,152.4 L1017.8,152.9 L1019.2,148.7 L1020.6,149.4 L1022.0,148.5 L1023.4,149.9 L1024.8,144.5 L1026.2,145.7 L1027.6,142.3 L1029.0,144.2 L1030.4,145.0 L1031.8,137.4 L1033.2,139.5 L1034.6,131.2 L1036.0,131.6 L1037.4,133.5 L1038.8,131.5 L1040.2,135.8 L1041.6,136.5 L1043.0,140.5 L1044.4,139.9 L1045.8,130.7 L1047.2,126.5 L1048.6,123.1 L1050.0,121.5 L1051.4,118.7 L1052.8,116.4 L1054.2,110.5 L1055.6,111.8 L1057.0,113.7 L1058.4,112.8 L1059.8,111.9 L1061.2,111.8 L1062.6,112.5 L1064.0,108.8 L1065.4,110.4 L1066.8,103.8 L1068.2,101.3 L1069.6,100.5 L1071.0,99.6 L1072.4,100.4 L1073.8,102.2 L1075.2,106.0 L1076.6,105.3 L1078.0,109.8 L1079.4,114.2 L1080.8,113.1 L1082.2,115.4 L1083.6,115.6 L1085.0,116.6 L1086.4,110.7 L1087.8,108.9 L1089.2,107.9 L1090.6,106.0 L1092.0,103.0 L1093.4,106.0 L1094.8,106.5 L1096.2,109.3 L1097.6,111.7 L1099.0,113.2 L1100.4,117.3 L1101.8,117.8 L1103.2,114.0 L1104.6,113.9 L1106.0,112.2 L1107.4,115.0 L1108.8,118.5 L1110.2,121.3 L1111.6,120.3 L1113.0,119.3 L1114.4,119.4 L1115.8,120.0 L1117.2,119.3 L1118.6,117.5 L1120.0,115.9 L1121.4,109.0 L1122.8,108.3 L1124.2,107.5 L1125.6,109.8 L1127.0,112.7 L1128.4,115.4 L1129.8,116.3 L1131.2,115.2 L1132.6,111.6 L1134.0,110.8 L1135.4,108.8 L1136.8,107.9 L1138.2,105.1 L1139.6,103.9 L1141.0,100.6 L1142.4,104.0 L1143.8,103.4 L1145.2,106.5 L1146.6,104.7 L1148.0,107.7 L1149.4,106.7 L1150.8,107.4 L1152.2,100.2 L1153.6,104.2 L1155.0,100.5 L1156.4,98.9 L1157.8,98.1 L1159.2,93.3 L1160.6,95.7 L1162.0,95.1 L1163.4,92.5 L1164.8,91.5 L1166.2,90.7 L1167.6,89.4 L1169.0,92.1 L1170.4,90.2 L1171.8,93.1 L1173.2,94.8 L1174.6,91.4 L1176.0,90.6 L1177.4,87.1 L1178.8,84.6 L1180.2,84.7 L1181.6,87.6 L1183.0,88.9 L1184.4,91.7 L1185.8,94.9 L1187.2,96.0 L1188.6,94.4 L1190.0,94.6 L1191.4,94.9 L1192.8,96.2 L1194.2,95.9 L1195.6,96.2 L1197.0,102.4 L1198.4,101.9 L1199.8,102.8 L1201.2,103.8 L1202.3,101.7 L1202.3,134.6 L1201.2,153.0 L1199.8,150.1 L1198.4,149.0 L1197.0,147.7 L1195.6,143.6 L1194.2,137.5 L1192.8,139.5 L1191.4,139.1 L1190.0,143.7 L1188.6,147.9 L1187.2,144.6 L1185.8,143.2 L1184.4,141.1 L1183.0,140.1 L1181.6,140.6 L1180.2,141.0 L1178.8,141.4 L1177.4,141.8 L1176.0,145.7 L1174.6,146.8 L1173.2,147.9 L1171.8,150.1 L1170.4,150.5 L1169.0,147.1 L1167.6,145.1 L1166.2,148.2 L1164.8,149.1 L1163.4,150.8 L1162.0,149.5 L1160.6,147.2 L1159.2,148.2 L1157.8,142.9 L1156.4,135.0 L1155.0,136.7 L1153.6,137.3 L1152.2,135.0 L1150.8,134.4 L1149.4,139.2 L1148.0,144.0 L1146.6,147.8 L1145.2,145.8 L1143.8,141.8 L1142.4,141.6 L1141.0,139.8 L1139.6,139.4 L1138.2,141.5 L1136.8,140.5 L1135.4,145.4 L1134.0,149.5 L1132.6,155.2 L1131.2,158.2 L1129.8,162.4 L1128.4,159.0 L1127.0,156.7 L1125.6,154.7 L1124.2,152.6 L1122.8,149.6 L1121.4,151.5 L1120.0,153.6 L1118.6,156.8 L1117.2,159.4 L1115.8,156.0 L1114.4,156.3 L1113.0,156.5 L1111.6,150.3 L1110.2,149.0 L1108.8,148.0 L1107.4,148.8 L1106.0,149.7 L1104.6,152.4 L1103.2,156.1 L1101.8,152.6 L1100.4,155.0 L1099.0,157.4 L1097.6,155.1 L1096.2,149.4 L1094.8,148.0 L1093.4,143.2 L1092.0,139.9 L1090.6,135.0 L1089.2,134.8 L1087.8,136.0 L1086.4,135.9 L1085.0,136.6 L1083.6,138.4 L1082.2,140.1 L1080.8,138.2 L1079.4,138.5 L1078.0,137.3 L1076.6,133.8 L1075.2,132.2 L1073.8,130.9 L1072.4,127.6 L1071.0,129.7 L1069.6,126.9 L1068.2,125.8 L1066.8,125.2 L1065.4,123.5 L1064.0,126.4 L1062.6,128.5 L1061.2,127.9 L1059.8,126.2 L1058.4,125.4 L1057.0,124.4 L1055.6,122.2 L1054.2,123.3 L1052.8,125.3 L1051.4,131.4 L1050.0,133.2 L1048.6,137.5 L1047.2,141.9 L1045.8,145.6 L1044.4,149.1 L1043.0,152.9 L1041.6,149.9 L1040.2,145.7 L1038.8,143.7 L1037.4,145.3 L1036.0,147.1 L1034.6,146.5 L1033.2,148.3 L1031.8,150.4 L1030.4,154.2 L1029.0,156.9 L1027.6,156.5 L1026.2,157.7 L1024.8,157.6 L1023.4,158.4 L1022.0,160.8 L1020.6,159.9 L1019.2,162.8 L1017.8,165.6 L1016.4,164.7 L1015.0,167.7 L1013.6,171.7 L1012.2,173.4 L1010.8,176.6 L1009.4,182.0 L1008.0,184.4 L1006.6,187.3 L1005.2,188.7 L1003.8,189.4 L1002.4,189.5 L1001.0,189.1 L999.6,187.6 L998.2,183.3 L996.8,182.4 L995.4,182.3 L994.0,180.4 L992.6,181.5 L991.2,177.9 L989.8,178.0 L988.4,178.0 L987.0,175.1 L985.6,175.8 L984.2,177.7 L982.8,181.1 L981.4,180.0 L980.0,185.4 L978.6,185.4 L977.2,188.4 L975.8,190.3 L974.4,193.4 L973.0,197.4 L971.6,201.5 L970.2,203.6 L968.8,208.6 L967.4,207.5 L966.0,206.0 L964.6,204.9 L963.2,203.6 L961.8,204.4 L960.4,204.1 L959.0,206.4 L957.6,208.5 L956.2,210.8 L954.8,207.9 L953.4,206.8 L952.0,204.8 L950.6,204.5 L949.2,206.8 L947.8,209.1 L946.4,209.8 L945.0,208.5 L943.6,201.9 L942.2,202.2 L940.8,203.1 L939.4,205.9 L938.0,207.8 L936.6,208.9 L935.2,211.6 L933.8,211.3 L932.4,213.6 L931.0,219.5 L929.6,219.4 L928.2,222.6 L926.8,223.9 L925.4,227.1 L924.0,227.1 L922.6,228.4 L921.2,227.2 L919.8,227.1 L918.4,230.3 L917.0,234.0 L915.6,235.2 L914.2,237.1 L912.8,232.3 L911.4,230.6 L910.0,226.6 L908.6,227.3 L907.2,227.1 L905.8,228.2 L904.4,223.7 L903.0,226.1 L901.6,233.0 L900.2,235.2 L898.8,236.6 L897.4,236.5 L896.0,240.9 L894.6,238.0 L893.2,240.4 L891.8,243.0 L890.4,243.6 L889.0,242.7 L887.6,246.6 L886.2,248.2 L884.8,254.9 L883.4,257.7 L882.0,264.1 L880.6,257.9 L879.2,256.8 L877.8,251.3 L876.4,252.6 L875.0,253.3 L873.6,252.7 L872.2,253.1 L870.8,255.5 L869.4,255.1 L868.0,257.2 L866.6,261.2 L865.2,261.5 L863.8,263.0 L862.4,272.0 L861.0,283.0 L859.6,285.2 L858.2,281.5 L856.8,275.7 L855.4,273.4 L854.0,272.9 L852.6,275.6 L851.2,278.7 L849.8,281.2 L848.4,282.2 L847.0,283.9 L845.6,287.1 L844.2,287.2 L842.8,289.2 L841.4,289.3 L840.0,290.9 L838.6,293.5 L837.2,295.6 L835.8,296.6 L834.4,299.4 L833.0,300.7 L831.6,305.6 L830.2,310.9 L828.8,316.3 L827.4,317.1 L826.0,315.3 L824.6,311.5 L823.2,316.3 L821.8,313.5 L820.4,318.1 L819.0,320.4 L817.6,316.1 L816.2,312.4 L814.8,310.5 L813.4,310.1 L812.0,308.4 L810.6,304.9 L809.2,303.1 L807.8,305.2 L806.4,297.9 L805.0,295.9 L803.6,292.5 L802.2,290.6 L800.8,293.1 L799.4,297.0 L798.0,299.0 L796.6,301.0 L795.2,302.7 L793.8,303.7 L792.4,308.8 L791.0,308.1 L789.6,311.4 L788.2,315.3 L786.8,320.5 L785.4,322.3 L784.0,328.1 L782.6,327.5 L781.2,333.2 L779.8,334.5 L778.4,337.5 L777.0,341.9 L775.6,342.5 L774.2,349.5 L772.8,352.8 L771.4,355.5 L770.0,360.4 L768.6,360.5 L767.2,361.5 L765.8,362.3 L764.4,362.6 L763.0,362.9 L761.6,363.4 L760.2,363.3 L758.8,362.6 L757.4,364.3 L756.0,367.9 L754.6,372.0 L753.2,373.3 L751.8,375.0 L750.4,378.0 L749.0,379.8 L747.6,384.3 L746.2,386.6 L744.8,389.8 L743.4,388.8 L742.0,389.9 L740.6,393.4 L739.2,393.5 L737.8,393.3 L736.4,398.8 L735.0,404.6 L733.6,408.2 L732.2,411.4 L730.8,418.2 L729.4,424.1 L728.0,423.2 L726.6,425.1 L725.2,424.9 L723.8,426.9 L722.4,430.9 L721.0,429.8 L719.6,433.0 L718.2,433.8 L716.8,436.6 L715.4,435.5 L714.0,435.9 L712.6,443.4 L711.2,447.5 L709.8,448.6 L708.4,449.9 L707.0,455.2 L705.6,460.3 L704.2,463.2 L702.8,464.9 L701.4,467.8 L700.0,467.7 L698.6,470.0 L697.2,472.7 L695.8,471.8 L694.4,474.6 L693.0,471.1 L691.6,474.6 L690.2,476.2 L688.8,478.7 L687.4,481.9 L686.0,486.4 L684.6,493.4 L683.2,494.4 L681.8,496.5 L680.4,497.1 L679.0,499.7 L677.6,502.0 L676.2,503.9 L674.8,504.7 L673.4,503.9 L672.0,506.5 L670.6,510.9 L669.2,512.7 L667.8,518.1 L666.4,522.2 L665.0,523.7 L663.6,526.6 L662.2,530.1 L660.8,531.9 L659.4,534.2 L658.0,533.8 L656.6,534.7 L655.2,538.0 L653.8,540.8 L652.4,542.2 L651.0,535.7 L649.6,540.0 L648.2,545.6 L646.8,549.6 L645.4,552.9 L644.0,552.7 L642.6,551.7 L641.2,556.2 L639.8,558.0 L638.4,560.7 L637.0,561.1 L635.6,564.3 L634.2,563.2 L632.8,564.3 L631.4,564.6 L630.0,562.8 L628.6,565.0 L627.2,565.1 L625.8,566.9 L624.4,566.1 L623.0,568.3 L621.6,569.5 L620.2,571.3 L618.8,574.6 L617.4,577.6 L616.0,578.5 L614.6,579.7 L613.2,582.3 L611.8,583.4 L610.4,584.2 L609.0,588.2 L607.6,593.1 L606.2,597.9 L604.8,603.3 L603.4,606.1 L602.0,610.1 L600.6,611.9 L599.2,615.9 L597.8,617.6 L596.4,622.3 L595.0,628.9 L593.6,635.2 L592.2,635.1 L590.8,636.3 L589.4,640.4 L588.0,640.0 L586.6,637.2 L585.2,638.9 L583.8,639.4 L582.4,641.7 L581.0,643.3 L579.6,642.4 L578.2,644.2 L576.8,646.9 L575.4,650.4 L574.0,650.5 L572.6,654.8 L571.2,654.8 L569.8,657.3 L568.4,656.7 L567.0,661.4 L565.6,662.2 L564.2,662.9 L562.8,666.8 L561.4,671.2 L560.0,673.1 L558.6,672.2 L557.2,673.3 L555.8,673.9 L554.4,674.6 L553.0,675.9 L551.6,678.2 L550.2,680.6 L548.8,682.0 L547.4,681.8 L546.0,682.4 L544.6,680.9 L543.2,680.7 L541.8,682.6 L540.4,679.7 L539.0,683.7 L537.6,681.2 L536.2,683.7 L534.8,686.8 L533.4,688.0 L532.0,690.4 L530.6,691.4 L529.2,695.0 L527.8,696.3 L526.4,696.5 L525.0,697.8 L523.6,699.5 L522.2,702.1 L520.8,700.3 L519.4,702.8 L518.0,703.1 L516.6,702.3 L515.2,704.6 L513.8,706.0 L512.4,706.7 L511.0,707.3 L509.6,708.6 L508.2,707.1 L506.8,705.8 L505.4,705.3 L504.0,706.0 L502.6,704.9 L501.2,706.7 L499.8,707.9 L498.4,707.3 L497.0,707.7 L495.6,708.8 L494.2,710.4 L492.8,712.0 L491.4,710.7 L490.0,712.9 L488.6,714.7 L487.2,714.9 L485.8,714.7 L484.4,719.7 L483.0,720.5 L481.6,724.9 L480.2,727.0 L478.8,727.6 L477.4,731.3 L476.0,730.9 L474.6,731.5 L473.2,733.5 L471.8,735.2 L470.4,737.6 L469.0,744.3 L467.6,744.0 L466.2,747.0 L464.8,748.7 L463.4,749.6 L462.0,749.9 L460.6,751.1 L459.2,750.1 L457.8,753.8 L456.4,755.8 L455.0,758.9 L453.6,759.6 L452.2,761.6 L450.8,761.6 L449.4,763.5 L448.0,764.0 L446.6,762.5 L445.2,763.8 L443.8,765.2 L442.4,762.5 L441.0,761.2 L439.6,761.3 L438.2,764.0 L436.8,763.4 L435.4,765.0 L434.0,766.1 L432.6,767.8 L431.2,772.5 L429.8,776.7 L428.4,775.9 L427.0,773.8 L425.6,774.0 L424.2,774.7 L422.8,775.2 L421.4,777.5 L420.0,778.2 L418.6,776.6 L417.2,775.8 L415.8,774.5 L414.4,775.9 L413.0,775.7 L411.6,776.8 L410.2,778.3 L408.8,781.1 L407.4,781.6 L406.0,783.9 L404.6,785.4 L403.2,786.2 L401.8,787.0 L400.4,787.4 L399.0,789.1 L397.6,789.6 L396.2,790.2 L394.8,791.3 L393.4,793.3 L392.0,795.0 L390.6,796.6 L389.2,796.1 L387.8,798.2 L386.4,799.2 L385.0,800.3 L383.6,801.1 L382.2,799.6 L380.8,800.7 L379.4,800.5 L378.0,800.4 L376.6,799.3 L375.2,800.0 L373.8,799.0 L372.4,798.7 L371.0,797.1 L369.6,797.5 L368.2,795.9 L366.8,795.4 L365.4,793.7 L364.0,793.6 L362.6,792.4 L361.2,791.3 L359.8,790.8 L358.4,789.4 L357.0,787.4 L355.6,783.4 L354.2,781.9 L352.8,783.5 L351.4,784.4 L350.0,785.4 L348.6,787.6 L347.2,787.8 L345.8,788.9 L344.4,790.7 L343.0,792.5 L341.6,794.4 L340.2,796.3 L338.8,798.3 L337.4,801.3 L336.0,802.5 L334.6,802.4 L333.2,804.4 L331.8,805.1 L330.4,806.3 L329.0,809.2 L327.6,810.4 L326.2,811.8 L324.8,812.6 L323.4,812.8 L322.0,812.4 L320.6,812.5 L319.2,813.3 L317.8,814.6 L316.4,814.2 L315.0,815.0 L313.6,816.6 L312.2,816.1 L310.8,818.3 L309.4,818.0 L308.0,818.4 L306.6,819.0 L305.2,820.3 L303.8,822.5 L302.4,822.7 L301.0,825.5 L299.6,825.0 L298.2,825.7 L296.8,827.6 L295.4,828.4 L294.0,829.9 L292.6,831.8 L291.2,834.7 L289.8,837.6 L288.4,837.6 L287.0,838.1 L285.6,837.9 L284.2,837.4 L282.8,836.4 L281.4,835.9 L280.0,838.0 L278.6,837.7 L277.2,838.4 L275.8,839.8 L274.4,840.3 L273.0,840.2 L271.6,838.5 L270.2,837.8 L268.8,838.2 L267.4,835.9 L266.0,833.5 L264.6,831.6 L263.2,831.2 L261.8,831.5 L260.4,832.8 L259.0,832.2 L257.6,832.0 L256.2,833.5 L254.8,831.4 L253.4,831.3 L252.0,830.2 L250.6,830.4 L249.2,830.7 L247.8,830.4 L246.4,828.9 L245.0,829.1 L243.6,829.4 L242.2,828.8 L240.8,828.3 L239.4,830.2 L238.0,830.7 L236.6,829.6 L235.2,834.4 L233.8,835.1 L232.4,834.8 L231.0,834.3 L229.6,835.2 L228.2,835.9 L226.8,835.9 L225.4,835.1 L224.0,835.1 L222.6,835.9 L221.2,836.0 L219.8,835.8 L218.4,835.7 L217.0,835.7 L215.6,836.6 L214.2,836.1 L212.8,836.7 L211.4,836.8 L210.0,836.6 L208.6,836.9 L207.2,839.4 L205.8,841.1 L204.4,843.6 L203.0,845.2 L201.6,845.5 L200.2,844.5 L198.8,842.9 L197.4,842.1Z" fill="#00bfff" fill-opacity="0.25" stroke="#00bfff" stroke-opacity="0.25" stroke-width="1" stroke-linejoin="round"/>
<path d="M197.4,845.1 L198.9,845.2 L200.4,847.6 L201.9,848.0 L203.4,848.9 L204.9,849.8 L206.1,851.1 L206.4,850.8 L207.9,847.2 L209.4,843.3 L209.7,842.6 L210.9,843.4 L212.4,843.8 L213.9,845.9 L215.1,847.2 L215.4,846.6 L216.9,844.9 L218.4,842.1 L218.7,842.0 L219.9,831.5 L221.4,830.0 L222.9,828.1 L222.9,828.5 L224.4,828.3 L225.9,828.1 L227.1,826.9 L227.4,824.9 L228.0,819.6 L228.9,819.8 L230.4,820.8 L231.9,822.6 L233.4,824.0 L234.9,825.2 L236.4,825.9 L237.9,826.0 L239.4,826.7 L240.9,828.4 L242.4,829.0 L243.8,830.1 L243.9,829.7 L245.4,830.5 L246.9,832.4 L248.4,832.7 L249.9,834.5 L251.4,834.7 L252.9,836.3 L254.4,836.5 L255.9,837.0 L257.4,838.0 L258.9,838.2 L260.4,839.6 L260.6,839.7 L261.9,837.9 L263.2,838.0 L263.4,834.4 L263.5,831.4 L264.9,833.3 L266.4,832.9 L267.9,833.2 L269.4,833.2 L270.9,833.6 L272.4,835.2 L273.9,835.8 L275.4,836.2 L276.9,836.2 L278.4,836.6 L278.5,837.8 L279.9,837.8 L281.4,839.4 L282.9,840.3 L284.4,839.6 L285.9,841.2 L287.4,840.7 L288.9,842.3 L290.4,843.5 L291.9,844.1 L293.4,844.6 L293.4,845.0 L294.9,843.4 L296.4,843.1 L297.9,842.2 L299.4,841.8 L300.9,840.9 L302.4,841.1 L303.9,840.6 L304.8,840.7 L305.4,839.6 L306.9,837.3 L308.4,835.6 L309.9,833.3 L311.4,830.6 L312.0,829.2 L312.9,830.0 L314.4,829.1 L315.9,828.2 L317.4,828.1 L318.9,828.7 L320.4,829.1 L321.5,828.7 L321.9,827.9 L322.7,826.7 L323.4,826.5 L324.9,825.5 L326.4,825.0 L327.9,825.1 L329.4,824.1 L330.9,823.2 L332.4,823.6 L333.5,823.9 L333.9,823.1 L335.4,823.4 L336.9,823.7 L338.4,822.4 L339.9,821.8 L341.4,822.1 L342.9,821.8 L343.1,822.9 L344.4,822.0 L345.9,819.8 L347.4,818.7 L348.9,817.0 L350.4,814.7 L350.8,815.5 L351.9,813.0 L353.4,810.6 L354.9,809.2 L355.6,807.8 L356.4,808.2 L357.9,808.0 L359.4,808.7 L360.9,807.8 L362.4,808.0 L363.9,807.8 L363.9,807.4 L365.4,806.1 L366.9,805.4 L368.4,805.2 L368.7,805.0 L369.9,806.2 L371.4,807.0 L372.9,807.6 L373.5,808.3 L374.4,803.9 L375.9,794.3 L375.9,794.0 L377.4,789.3 L378.9,785.1 L380.4,780.8 L380.7,780.8 L381.9,778.2 L381.9,778.2 L383.4,778.4 L384.9,777.9 L386.4,777.1 L386.6,776.8 L387.9,774.1 L389.4,772.4 L390.2,771.2 L390.9,772.7 L392.4,773.9 L393.8,776.3 L393.9,776.5 L395.4,781.7 L395.6,782.3 L396.9,786.9 L397.4,789.8 L398.4,790.3 L399.9,790.1 L401.4,789.1 L402.9,789.7 L404.4,790.3 L405.9,790.8 L407.4,790.5 L408.9,789.2 L410.4,790.2 L410.6,790.2 L411.9,782.0 L412.9,777.2 L413.4,776.3 L414.9,773.0 L416.4,768.4 L416.5,768.3 L417.9,767.6 L419.4,767.0 L420.9,767.4 L421.3,767.3 L422.4,759.2 L422.5,758.6 L423.9,760.8 L425.4,761.9 L426.9,763.9 L427.3,763.8 L428.4,761.1 L429.7,755.7 L429.9,756.2 L431.4,758.3 L432.7,760.2 L432.9,760.5 L434.4,758.3 L435.7,756.4 L435.9,756.3 L437.4,755.0 L438.9,754.0 L440.4,753.4 L441.6,750.9 L441.9,749.9 L443.4,744.9 L444.0,741.2 L444.9,741.1 L446.4,738.2 L447.9,737.0 L448.8,736.4 L449.4,735.0 L450.9,733.5 L452.4,731.7 L452.4,732.4 L453.9,729.0 L455.4,725.8 L456.9,721.9 L457.2,721.6 L458.4,722.2 L459.9,721.9 L461.4,721.9 L462.9,720.5 L464.4,720.3 L464.4,720.0 L465.9,713.1 L467.4,707.1 L468.9,699.5 L469.4,697.5 L470.4,696.7 L471.9,695.2 L473.4,691.7 L473.9,690.9 L474.9,692.0 L476.4,693.9 L477.9,693.8 L478.4,695.0 L479.4,690.9 L480.9,685.4 L482.4,680.7 L482.9,677.6 L483.9,673.5 L485.4,667.2 L485.9,665.2 L486.9,664.4 L488.4,663.7 L489.9,662.3 L491.4,660.0 L492.9,659.4 L493.4,658.8 L494.4,651.7 L495.9,643.7 L496.3,641.4 L497.4,636.2 L498.9,631.2 L499.3,629.6 L500.4,625.1 L501.9,619.4 L503.4,615.8 L504.9,611.3 L505.3,608.8 L506.4,607.5 L507.9,604.7 L509.4,601.6 L509.8,601.1 L510.9,598.2 L512.4,592.6 L513.9,588.7 L514.3,587.9 L515.4,586.4 L516.9,585.9 L518.4,585.3 L518.8,585.4 L519.9,586.7 L521.4,588.1 L522.5,589.3 L522.9,588.5 L524.4,583.2 L525.9,579.6 L527.4,575.3 L527.7,573.3 L528.9,571.8 L530.4,569.4 L531.9,566.0 L532.2,566.3 L533.4,564.0 L534.9,560.1 L536.4,556.2 L537.9,553.1 L539.4,550.8 L540.9,547.4 L542.4,544.7 L542.4,543.7 L543.9,542.7 L545.4,542.5 L546.9,543.1 L546.9,542.1 L548.4,537.7 L549.9,534.7 L551.4,529.9 L551.4,530.7 L552.9,526.9 L554.4,523.9 L555.9,521.6 L557.4,519.3 L557.4,518.7 L558.9,518.9 L560.4,518.4 L561.9,519.0 L563.4,519.2 L564.8,520.4 L564.9,520.5 L566.4,516.2 L567.9,511.3 L569.3,507.2 L569.4,506.2 L570.9,505.7 L572.4,505.0 L573.9,504.3 L575.4,504.5 L576.8,503.3 L576.9,503.0 L578.4,498.9 L579.9,495.9 L581.3,492.2 L581.4,492.0 L582.9,494.3 L584.4,497.6 L585.8,500.3 L585.9,499.4 L587.4,498.5 L588.9,498.1 L590.4,496.3 L591.9,495.0 L593.2,493.9 L593.4,493.6 L594.9,486.3 L596.4,477.4 L597.7,470.5 L597.9,471.1 L599.4,466.6 L600.9,462.2 L602.2,459.4 L602.4,459.7 L603.9,458.4 L605.4,457.2 L606.7,457.4 L606.9,457.2 L608.4,453.6 L609.9,449.2 L611.4,444.3 L612.7,440.9 L612.9,440.1 L614.4,437.2 L615.9,434.3 L617.4,432.2 L618.6,430.0 L618.9,430.5 L620.4,432.2 L621.9,435.3 L623.1,436.1 L623.4,437.0 L624.9,436.2 L626.4,436.0 L627.9,434.7 L629.4,434.9 L630.6,432.9 L630.9,434.2 L632.4,436.0 L633.6,436.5 L633.9,435.4 L635.4,426.2 L636.9,418.5 L637.4,415.6 L638.4,414.4 L639.9,412.4 L641.4,411.9 L641.9,411.6 L642.9,404.8 L644.4,397.7 L644.8,394.4 L645.9,390.1 L647.4,384.1 L647.8,382.7 L648.9,386.1 L650.4,390.1 L650.8,390.8 L651.9,388.3 L653.4,385.1 L654.9,382.3 L656.4,380.5 L657.9,378.4 L659.4,375.8 L659.8,376.0 L660.9,369.2 L662.4,360.6 L662.8,358.5 L663.9,359.2 L665.4,361.9 L666.9,363.2 L667.3,363.4 L668.4,359.0 L669.9,353.1 L671.4,347.6 L671.8,346.6 L672.9,343.2 L674.4,339.7 L674.7,338.2 L675.9,336.7 L677.4,335.1 L678.9,334.1 L679.2,334.2 L680.4,337.5 L681.9,341.0 L683.0,342.1 L683.4,341.0 L684.9,334.6 L686.4,328.6 L686.7,327.5 L687.9,325.7 L689.4,324.3 L690.9,324.1 L692.4,323.4 L692.7,322.8 L693.9,324.4 L695.4,325.5 L696.9,325.6 L697.2,325.1 L698.4,324.1 L699.9,322.7 L700.1,321.4 L701.4,320.8 L702.9,322.0 L704.4,321.3 L704.6,323.0 L705.9,330.9 L707.4,339.0 L707.6,340.5 L708.9,340.0 L710.4,339.6 L711.9,339.5 L712.1,341.3 L713.4,343.0 L714.9,346.1 L716.4,347.8 L716.6,349.1 L717.9,347.2 L719.4,345.4 L720.9,342.8 L722.4,341.2 L722.6,340.0 L723.9,343.9 L725.4,345.9 L725.6,345.7 L726.9,341.8 L728.4,335.9 L728.5,335.5 L729.9,327.9 L731.4,321.3 L731.5,318.7 L732.9,316.6 L734.4,315.0 L734.5,315.0 L735.9,316.3 L737.4,316.6 L737.5,316.1 L738.9,314.0 L740.4,309.7 L741.9,307.1 L742.0,306.2 L743.4,299.3 L744.5,293.1 L744.9,293.4 L746.4,293.0 L747.9,290.4 L749.4,290.4 L750.5,287.3 L750.9,290.7 L752.4,294.9 L753.9,301.7 L754.2,302.7 L755.4,300.4 L756.9,295.3 L757.9,291.7 L758.4,292.4 L759.9,289.9 L761.4,288.1 L762.9,285.2 L764.4,281.4 L764.7,282.6 L765.9,283.7 L767.4,286.8 L768.9,288.2 L770.4,291.2 L771.4,294.2 L771.9,293.1 L773.4,287.8 L774.9,282.0 L776.4,277.3 L777.4,274.0 L777.9,273.2 L779.4,275.2 L780.9,277.0 L781.9,278.4 L782.4,276.5 L783.9,274.4 L785.4,272.6 L786.9,270.0 L787.8,269.4 L788.4,271.5 L789.9,274.0 L791.4,275.4 L792.3,278.1 L792.9,273.5 L794.4,266.3 L795.9,256.6 L796.8,250.9 L797.4,251.1 L798.9,251.9 L800.4,251.5 L801.9,253.1 L803.4,253.8 L804.9,252.2 L805.8,253.0 L806.4,255.9 L807.9,262.3 L808.8,265.2 L809.4,267.9 L810.9,271.0 L812.4,271.1 L813.2,272.5 L813.9,270.6 L815.4,265.9 L816.9,262.1 L818.4,259.3 L819.9,253.0 L820.0,254.4 L821.4,256.3 L822.9,258.2 L824.4,263.3 L825.9,265.2 L826.7,266.3 L827.4,265.0 L828.9,263.8 L830.4,261.5 L831.9,259.6 L833.4,258.0 L834.2,258.1 L834.9,255.5 L836.4,249.7 L837.9,244.8 L839.4,240.3 L840.9,242.4 L842.4,243.3 L843.9,246.5 L844.6,247.5 L845.4,248.2 L846.9,250.1 L848.4,251.9 L849.9,253.6 L851.4,257.8 L852.1,258.8 L852.9,256.3 L854.4,256.0 L855.9,254.4 L857.4,250.1 L858.9,249.1 L859.6,247.2 L860.4,247.1 L861.9,247.0 L863.4,244.9 L864.9,243.8 L865.6,243.8 L866.4,240.5 L867.9,237.6 L868.5,235.7 L869.4,237.7 L870.9,237.0 L872.4,238.9 L873.0,237.7 L873.9,233.8 L875.4,226.4 L876.9,219.3 L877.5,217.5 L878.4,216.0 L879.9,216.0 L881.4,213.1 L882.9,212.6 L883.5,213.0 L884.4,209.9 L885.9,207.3 L887.4,206.5 L888.9,203.9 L889.5,204.2 L890.4,204.4 L891.9,206.6 L893.4,210.4 L894.9,211.6 L896.4,215.4 L897.0,216.5 L897.9,212.1 L899.4,208.4 L900.9,205.7 L901.4,202.4 L902.4,202.4 L903.9,200.6 L905.4,198.5 L906.9,196.0 L907.5,193.6 L908.4,193.2 L909.9,187.7 L911.4,185.2 L912.9,181.8 L913.5,179.4 L914.4,176.8 L915.9,171.1 L917.4,166.7 L918.7,160.6 L918.9,162.6 L920.4,162.8 L921.9,164.6 L923.4,165.0 L924.9,166.7 L925.4,165.9 L926.4,166.2 L927.9,164.8 L929.4,165.6 L930.9,164.8 L932.4,166.7 L933.9,166.8 L934.4,166.2 L935.4,169.5 L936.9,172.9 L938.4,176.0 L939.6,176.1 L939.9,176.9 L941.4,176.9 L942.9,176.2 L944.4,174.1 L944.8,175.9 L945.9,171.5 L947.4,166.4 L947.8,165.6 L948.9,162.9 L950.4,159.8 L951.9,159.9 L952.3,158.3 L953.4,158.9 L954.9,161.0 L955.3,164.0 L956.4,163.2 L957.9,160.5 L959.4,158.6 L960.9,159.2 L962.4,157.9 L963.9,156.5 L964.3,154.8 L965.4,152.3 L966.9,150.2 L968.4,144.3 L969.9,141.0 L970.2,139.3 L971.4,143.5 L972.9,144.3 L974.4,148.6 L974.7,149.5 L975.9,146.6 L977.4,141.1 L978.9,138.7 L979.2,137.8 L980.4,134.8 L981.9,130.0 L983.4,127.0 L984.9,124.3 L985.2,122.0 L986.4,122.8 L987.9,121.0 L989.4,119.3 L989.7,118.8 L990.9,121.8 L992.4,125.5 L993.4,127.5 L993.9,127.5 L995.4,123.8 L996.9,120.5 L998.4,118.7 L998.6,116.5 L999.9,111.9 L1001.4,108.1 L1002.4,105.5 L1002.9,106.6 L1004.4,111.9 L1005.9,115.7 L1007.4,122.6 L1008.9,126.8 L1009.1,128.4 L1010.4,123.1 L1011.9,117.1 L1013.4,111.2 L1013.6,109.2 L1014.9,108.9 L1016.4,106.6 L1017.9,106.0 L1019.4,105.2 L1019.6,105.7 L1020.9,101.0 L1022.4,97.3 L1023.9,95.0 L1024.8,93.2 L1025.4,95.5 L1026.9,97.3 L1028.4,100.9 L1029.9,104.5 L1030.0,106.4 L1031.4,102.6 L1032.9,97.5 L1034.4,92.8 L1034.5,91.8 L1035.9,92.2 L1037.4,93.6 L1038.9,93.7 L1039.0,93.6 L1040.4,90.4 L1041.9,86.9 L1043.4,84.3 L1044.9,80.9 L1045.0,79.3 L1046.4,80.9 L1047.9,82.3 L1049.4,83.7 L1050.9,85.4 L1051.0,85.0 L1052.4,80.7 L1053.9,76.3 L1054.7,73.7 L1055.4,77.1 L1056.9,79.2 L1058.4,82.2 L1058.5,84.0 L1059.9,79.3 L1061.4,74.8 L1062.9,70.9 L1063.0,70.0 L1064.4,72.6 L1065.9,75.0 L1067.4,81.3 L1067.5,82.6 L1068.9,81.6 L1070.4,82.6 L1071.9,83.1 L1072.0,82.0 L1073.4,87.5 L1074.9,91.2 L1076.4,92.3 L1076.4,91.7 L1077.9,95.6 L1079.4,98.9 L1080.9,100.5 L1080.9,100.0 L1082.4,97.2 L1083.9,97.0 L1085.4,95.8 L1085.4,96.1 L1086.9,95.5 L1088.4,98.3 L1089.9,102.0 L1091.4,104.3 L1092.9,105.9 L1094.4,107.0 L1095.9,108.7 L1095.9,110.9 L1097.4,112.7 L1098.9,118.2 L1100.4,121.9 L1101.1,122.9 L1101.9,122.7 L1103.4,120.7 L1104.9,117.1 L1106.4,112.2 L1107.8,110.7 L1107.9,110.5 L1109.4,112.1 L1110.9,116.5 L1112.4,118.8 L1113.8,118.8 L1113.9,118.6 L1115.4,121.8 L1116.9,125.8 L1118.3,128.0 L1118.4,128.2 L1119.9,129.2 L1121.4,127.1 L1122.9,128.0 L1124.3,126.7 L1124.4,128.7 L1125.9,130.4 L1127.4,129.4 L1128.8,130.6 L1128.9,129.3 L1130.4,134.0 L1131.9,139.1 L1132.5,141.2 L1133.4,135.9 L1134.9,127.3 L1136.2,120.7 L1136.4,121.9 L1137.9,118.8 L1139.4,116.8 L1140.9,115.7 L1142.2,115.2 L1142.4,114.1 L1143.9,111.9 L1145.4,111.7 L1146.7,109.9 L1146.9,110.9 L1148.4,105.0 L1149.9,100.5 L1150.4,99.6 L1151.4,102.3 L1152.9,101.6 L1154.4,102.3 L1155.7,102.9 L1155.9,103.7 L1157.4,108.2 L1158.9,112.6 L1160.2,117.4 L1160.4,117.3 L1161.9,121.8 L1163.1,125.2 L1163.4,126.3 L1164.9,126.2 L1166.4,123.8 L1167.6,124.3 L1167.9,122.4 L1169.4,124.3 L1170.9,123.3 L1172.4,123.6 L1173.9,122.6 L1175.1,121.8 L1175.4,120.9 L1176.9,122.3 L1178.4,120.3 L1179.6,120.3 L1179.9,120.7 L1181.4,125.3 L1182.6,127.6 L1182.9,127.1 L1184.4,127.1 L1185.9,128.1 L1187.4,127.7 L1188.5,125.5 L1188.9,127.0 L1190.4,125.1 L1191.9,122.2 L1193.0,121.2 L1193.4,121.9 L1194.9,127.0 L1196.0,129.0 L1196.4,127.4 L1197.9,123.8 L1199.4,120.8 L1200.5,118.5 L1200.9,117.9 L1202.4,116.6 L1203.5,115.6 L1203.9,114.8 L1205.4,113.3 L1206.9,109.9 L1208.0,104.7 L1208.4,104.3 L1209.9,108.4 L1211.4,113.0 L1212.5,117.5 L1212.9,119.1 L1214.4,116.1 L1215.9,112.7 L1217.4,108.8 L1218.9,110.1 L1219.9,108.4 L1220.4,107.9 L1221.9,111.5 L1223.4,121.9 L1224.4,123.4 L1224.9,126.2 L1226.4,123.9 L1227.9,126.8 L1228.9,126.5 L1229.4,128.3 L1230.9,123.4 L1232.4,118.9 L1233.4,117.2 L1233.9,119.2 L1235.4,117.3 L1236.9,112.2 L1237.9,109.4 L1238.4,105.7 L1239.9,100.7 L1240.9,96.7 L1241.4,103.4 L1242.9,105.7 L1243.9,111.4 L1244.4,110.4 L1245.9,108.7 L1247.4,109.2 L1248.3,112.0 L1248.9,110.6 L1250.3,112.3 L1250.3,114.5" fill="none" stroke="#ff0000" stroke-width="6.9" stroke-linejoin="round" stroke-linecap="round"/>
<path d="M197.4,838.6 L198.9,840.2 L200.4,841.0 L201.9,843.5 L202.6,843.2 L203.4,841.2 L204.9,838.3 L206.4,835.8 L207.9,832.9 L207.9,833.0 L209.4,831.7 L210.9,830.5 L212.4,828.2 L212.7,826.8 L213.9,826.7 L215.4,824.1 L216.9,822.8 L218.4,821.0 L219.3,820.9 L219.9,821.9 L221.4,821.9 L222.9,822.8 L224.4,824.8 L224.7,825.1 L225.9,824.3 L227.4,825.3 L228.9,826.0 L230.4,825.8 L230.7,825.2 L231.9,825.2 L233.4,824.1 L234.9,822.9 L235.4,822.5 L236.4,823.4 L237.9,823.8 L239.4,824.9 L240.9,826.0 L241.4,826.4 L242.4,825.7 L243.9,825.6 L245.0,824.0 L245.4,824.3 L246.9,826.3 L248.4,827.5 L249.9,828.6 L251.0,829.0 L251.4,828.3 L252.9,827.7 L254.4,826.6 L255.9,824.9 L256.4,824.5 L257.4,824.8 L258.9,826.9 L260.4,827.1 L261.9,827.9 L263.4,828.9 L264.1,828.6 L264.9,829.9 L266.4,831.1 L267.9,832.0 L269.4,832.9 L270.9,832.7 L272.4,832.8 L273.7,834.4 L273.9,834.5 L275.4,833.6 L276.9,833.0 L278.4,832.2 L279.9,832.9 L280.9,832.4 L281.4,832.7 L282.9,831.5 L284.4,830.7 L285.9,830.5 L287.4,830.4 L288.9,830.3 L289.2,829.4 L290.4,828.0 L291.9,825.3 L292.8,824.6 L293.4,824.5 L294.9,823.9 L296.4,823.1 L297.9,822.4 L299.4,823.1 L300.9,823.0 L301.2,822.1 L302.4,820.2 L303.9,818.7 L305.4,818.5 L306.0,816.8 L306.9,817.3 L308.4,816.4 L309.9,815.6 L311.4,814.8 L312.9,813.8 L314.4,813.3 L314.4,812.5 L315.9,813.1 L317.4,811.4 L318.9,810.5 L320.4,810.7 L321.5,810.5 L321.9,810.8 L323.4,810.4 L324.9,810.5 L326.4,808.8 L327.5,808.0 L327.9,807.5 L329.4,805.8 L330.9,802.3 L331.1,802.3 L332.4,802.1 L333.9,800.3 L335.4,799.8 L336.9,799.7 L337.1,799.5 L338.4,796.9 L339.9,794.6 L340.7,793.1 L341.4,793.2 L342.9,791.3 L344.3,789.3 L344.4,788.4 L345.9,787.5 L347.4,785.8 L348.9,784.8 L350.4,782.7 L351.9,782.0 L353.4,780.4 L354.4,779.0 L354.9,779.4 L356.4,780.8 L357.9,781.3 L359.4,782.9 L360.3,781.9 L360.9,783.3 L362.4,784.1 L363.9,784.5 L365.4,785.7 L366.9,785.4 L367.5,785.7 L368.4,787.3 L369.9,789.4 L371.4,790.4 L372.9,792.9 L373.5,793.3 L374.4,791.5 L375.9,790.2 L377.4,789.1 L378.9,788.9 L380.4,787.8 L381.9,786.7 L381.9,787.1 L383.4,788.8 L384.2,791.3 L384.9,791.3 L386.4,790.2 L387.9,789.1 L389.4,788.0 L390.9,787.6 L392.4,786.6 L392.6,787.5 L393.9,787.0 L395.4,785.9 L396.9,785.1 L398.4,782.9 L399.8,781.7 L399.9,782.0 L401.4,782.0 L402.9,782.8 L404.4,784.4 L404.6,784.6 L405.9,783.1 L407.4,779.9 L408.9,777.5 L410.4,775.1 L410.6,775.2 L411.9,773.9 L413.4,773.5 L414.9,772.2 L415.3,772.5 L416.4,773.2 L417.9,774.2 L419.4,774.6 L420.1,775.7 L420.9,775.1 L422.4,773.8 L423.9,772.1 L425.4,770.6 L426.1,769.6 L426.9,769.9 L428.4,772.2 L429.7,774.2 L429.9,773.1 L431.4,770.3 L432.9,766.9 L434.4,763.3 L434.5,763.1 L435.9,761.6 L437.4,759.9 L438.9,758.8 L439.2,759.4 L440.4,759.7 L441.9,757.7 L443.4,756.4 L444.9,756.2 L446.4,755.7 L446.4,756.2 L447.9,753.8 L449.4,753.2 L450.9,750.9 L452.4,750.1 L453.9,747.6 L454.8,746.3 L455.4,744.9 L456.9,743.7 L458.4,740.9 L459.9,738.7 L460.8,735.9 L461.4,736.2 L462.9,736.4 L464.4,736.8 L465.9,736.6 L466.8,735.0 L467.4,732.9 L468.9,729.3 L470.3,724.3 L470.4,724.8 L471.9,722.4 L473.4,720.2 L474.9,720.2 L476.4,718.1 L477.5,717.4 L477.9,716.3 L479.4,713.6 L480.9,711.3 L481.4,710.6 L482.4,708.9 L483.9,705.2 L485.4,703.3 L486.9,699.6 L488.4,697.4 L489.9,696.0 L490.4,694.3 L491.4,692.8 L492.9,691.0 L494.4,688.4 L495.9,687.0 L497.4,685.0 L497.8,683.5 L498.9,685.9 L500.4,686.7 L501.9,689.3 L503.4,690.8 L503.8,690.8 L504.9,689.7 L506.4,690.0 L507.9,689.1 L509.4,687.3 L510.9,686.6 L512.4,685.8 L513.9,684.7 L514.3,683.8 L515.4,681.8 L516.9,680.4 L518.4,679.6 L519.9,677.8 L521.4,676.0 L521.8,675.9 L522.9,674.5 L524.4,673.7 L525.9,673.4 L527.4,671.5 L528.9,671.5 L530.4,669.4 L530.7,669.7 L531.9,665.5 L533.4,659.2 L533.7,659.2 L534.9,657.7 L536.4,655.9 L537.9,654.8 L539.4,654.0 L540.9,652.5 L542.4,650.5 L542.7,650.1 L543.9,651.2 L545.4,650.5 L546.9,650.5 L548.4,651.5 L549.4,651.9 L549.9,650.1 L551.4,642.9 L551.6,641.3 L552.9,641.3 L554.4,640.2 L555.9,638.6 L557.4,636.7 L558.9,636.0 L559.1,635.6 L560.4,634.9 L561.9,634.3 L563.4,631.7 L564.9,629.6 L566.4,629.0 L566.6,628.1 L567.9,625.4 L569.4,622.8 L570.9,620.9 L572.4,617.1 L573.9,613.8 L574.1,613.6 L575.4,610.5 L576.9,607.7 L578.4,605.4 L579.9,601.9 L580.0,602.3 L581.4,598.7 L582.9,595.3 L584.4,593.1 L584.5,592.8 L585.9,594.3 L587.4,593.9 L588.9,595.4 L589.0,595.5 L590.4,593.5 L591.9,591.2 L593.4,590.1 L594.9,589.0 L595.0,588.5 L596.4,584.2 L597.9,580.0 L599.4,575.5 L599.5,574.9 L600.9,568.6 L602.4,562.7 L603.9,556.9 L605.2,552.3 L605.4,552.2 L606.9,547.5 L608.4,542.9 L609.7,539.0 L609.9,539.2 L611.4,536.6 L612.9,532.9 L614.4,530.4 L615.7,528.6 L615.9,527.5 L617.4,526.7 L618.9,524.6 L620.4,523.2 L621.6,522.4 L621.9,521.1 L623.4,519.5 L624.9,519.1 L626.4,516.4 L627.9,514.9 L629.4,513.7 L630.6,513.0 L630.9,513.3 L632.4,515.4 L633.9,516.6 L635.1,516.5 L635.4,515.9 L636.9,514.4 L638.4,513.8 L639.9,512.0 L641.4,511.4 L642.9,510.6 L644.4,508.7 L645.6,508.7 L645.9,506.7 L647.4,500.7 L648.5,494.8 L648.9,494.4 L650.4,492.1 L651.9,489.3 L653.4,487.8 L654.5,485.0 L654.9,484.4 L656.4,481.8 L657.9,480.2 L659.4,477.2 L660.9,473.5 L662.0,471.7 L662.4,471.9 L663.9,471.0 L665.4,468.4 L666.9,467.7 L668.0,466.3 L668.4,465.4 L669.9,461.7 L671.4,458.2 L672.5,456.7 L672.9,456.4 L674.4,454.6 L675.9,452.4 L677.4,450.4 L678.5,448.0 L678.9,447.4 L680.4,448.7 L681.9,448.8 L682.9,448.8 L683.4,446.7 L684.9,441.5 L686.4,437.7 L687.9,432.5 L688.9,428.2 L689.4,428.0 L690.9,426.8 L692.4,425.0 L693.9,425.1 L695.4,424.2 L695.7,423.9 L696.9,421.0 L698.4,419.4 L699.9,417.1 L701.4,416.5 L702.9,415.3 L703.1,415.1 L704.4,411.4 L705.9,405.2 L706.1,403.6 L707.4,405.4 L708.9,409.6 L709.1,410.6 L710.4,406.1 L711.9,400.7 L713.4,397.5 L713.6,395.4 L714.9,394.1 L716.4,391.8 L717.9,392.5 L719.4,390.4 L719.6,390.9 L720.9,389.9 L722.4,387.9 L723.9,387.3 L725.4,385.6 L726.9,384.4 L728.4,383.1 L728.5,380.7 L729.9,383.0 L731.4,383.5 L731.5,383.5 L732.9,377.4 L734.4,372.3 L734.5,369.9 L735.9,366.8 L737.4,362.4 L738.9,360.7 L740.4,356.3 L740.5,356.4 L741.9,353.5 L743.4,351.3 L744.9,347.7 L746.4,344.9 L747.9,343.0 L749.0,341.2 L749.4,341.2 L750.9,337.7 L752.4,336.6 L753.9,334.5 L755.4,332.0 L756.4,330.0 L756.9,329.9 L758.4,327.8 L759.9,326.6 L761.4,326.1 L762.9,324.8 L763.9,323.9 L764.4,326.2 L765.9,328.8 L767.4,330.7 L768.4,331.0 L768.9,331.3 L770.4,330.0 L771.9,327.8 L773.4,324.8 L774.4,324.1 L774.9,322.2 L776.4,317.3 L777.9,312.3 L778.9,311.2 L779.4,310.2 L780.9,308.3 L782.4,303.9 L783.9,300.8 L785.4,298.6 L786.3,295.9 L786.9,295.2 L788.4,293.3 L789.9,290.8 L791.4,289.3 L792.3,287.3 L792.9,286.8 L794.4,285.6 L795.9,285.0 L797.4,283.0 L798.9,280.7 L800.4,281.7 L801.9,280.9 L802.8,278.6 L803.4,278.7 L804.9,280.6 L806.4,283.6 L807.9,284.4 L809.4,285.6 L810.2,287.6 L810.9,287.7 L812.4,290.3 L813.9,293.0 L815.4,294.9 L816.9,296.5 L818.4,299.2 L819.2,300.6 L819.9,299.7 L821.4,297.5 L822.9,295.0 L823.7,293.5 L824.4,293.8 L825.9,298.2 L827.4,301.1 L828.2,301.9 L828.9,298.3 L830.4,293.9 L831.9,291.2 L832.7,288.3 L833.4,287.0 L834.9,287.3 L836.4,286.9 L837.9,284.2 L839.4,283.5 L840.9,282.8 L841.6,281.3 L842.4,280.3 L843.9,278.9 L845.4,277.0 L846.9,274.8 L847.6,273.7 L848.4,272.0 L849.9,268.9 L851.4,266.3 L852.9,266.2 L854.4,264.8 L855.1,264.2 L855.9,263.8 L857.4,267.9 L858.9,269.7 L859.6,271.1 L860.4,267.2 L861.9,262.3 L863.4,256.2 L864.1,253.5 L864.9,251.6 L866.4,251.2 L867.9,248.3 L869.4,247.1 L870.9,246.0 L871.5,244.3 L872.4,244.1 L873.9,243.0 L875.4,244.2 L876.9,242.8 L877.5,242.2 L878.4,244.1 L879.9,248.1 L881.4,251.5 L882.0,252.5 L882.9,250.4 L884.4,245.5 L885.9,239.2 L887.4,234.7 L888.0,232.0 L888.9,231.9 L890.4,231.6 L891.9,231.3 L893.4,232.0 L894.9,233.6 L896.4,233.5 L897.0,232.0 L897.9,230.0 L899.4,227.9 L900.9,225.0 L902.4,220.8 L903.9,217.5 L904.4,217.6 L905.4,218.1 L906.9,216.9 L908.4,218.3 L909.9,217.4 L910.4,218.0 L911.4,219.3 L912.9,220.7 L914.4,224.0 L915.9,224.9 L916.4,225.2 L917.4,222.4 L918.9,218.8 L919.4,218.0 L920.4,218.2 L921.9,218.2 L923.4,219.2 L924.9,219.8 L925.4,220.8 L926.4,219.3 L927.9,216.1 L929.4,211.9 L930.9,209.5 L932.4,206.6 L932.8,205.2 L933.9,203.5 L935.4,198.3 L935.9,197.9 L936.9,197.2 L938.4,196.2 L939.9,196.2 L941.4,195.8 L942.6,196.1 L942.9,197.1 L944.4,200.3 L945.9,202.3 L946.3,203.9 L947.4,202.4 L948.9,201.8 L950.4,199.1 L951.6,197.2 L951.9,196.7 L953.4,199.9 L954.9,202.7 L955.3,203.0 L956.4,201.2 L957.9,200.4 L959.4,198.1 L960.9,196.6 L962.4,195.8 L962.8,195.4 L963.9,196.9 L965.4,198.6 L966.9,199.9 L968.4,200.6 L968.8,200.4 L969.9,198.5 L971.4,195.8 L972.9,190.4 L974.4,186.0 L974.7,184.9 L975.9,184.0 L977.4,181.3 L978.9,179.4 L979.2,177.1 L980.4,175.4 L981.9,173.7 L983.4,172.3 L984.9,170.7 L986.4,169.0 L986.7,170.2 L987.9,170.1 L989.4,171.2 L990.9,173.2 L992.4,173.7 L993.9,174.5 L995.4,176.0 L995.7,175.0 L996.9,175.2 L998.4,178.8 L999.9,180.1 L1001.4,181.7 L1002.9,182.0 L1003.9,184.3 L1004.4,183.0 L1005.9,180.9 L1007.4,177.6 L1008.9,176.4 L1009.1,175.1 L1010.4,171.3 L1011.9,169.0 L1013.4,164.0 L1014.9,159.9 L1015.1,159.9 L1016.4,160.0 L1017.9,156.7 L1019.4,154.9 L1020.9,154.8 L1022.4,151.9 L1022.6,152.1 L1023.9,152.4 L1025.4,151.7 L1026.9,151.1 L1028.4,148.5 L1029.9,149.1 L1030.0,148.1 L1031.4,146.3 L1032.9,142.7 L1033.0,143.3 L1034.4,141.5 L1035.9,139.5 L1037.4,137.8 L1038.9,137.4 L1039.0,136.4 L1040.4,139.7 L1041.9,145.2 L1042.8,147.1 L1043.4,145.9 L1044.9,140.0 L1046.4,136.0 L1047.9,131.8 L1048.0,130.7 L1049.4,127.2 L1050.9,125.2 L1051.0,125.1 L1052.4,121.2 L1053.9,117.6 L1054.7,116.4 L1055.4,117.7 L1056.9,118.7 L1058.4,118.8 L1058.5,120.4 L1059.9,120.4 L1060.0,120.1 L1061.4,119.6 L1062.9,120.7 L1064.4,121.3 L1064.5,121.1 L1065.9,118.8 L1067.4,115.5 L1068.9,114.6 L1070.4,112.2 L1071.2,110.2 L1071.9,112.2 L1073.4,114.3 L1074.9,115.8 L1076.4,117.4 L1076.4,114.6 L1077.9,117.2 L1079.4,120.0 L1080.9,122.1 L1082.4,126.1 L1082.4,127.1 L1083.9,122.4 L1085.4,120.2 L1086.9,119.1 L1088.4,116.8 L1089.2,114.2 L1089.9,114.1 L1091.4,117.7 L1092.9,121.1 L1094.4,125.0 L1094.4,123.5 L1095.9,125.5 L1097.4,129.9 L1098.9,129.8 L1100.4,133.1 L1100.4,131.8 L1101.9,131.9 L1103.4,130.0 L1104.9,129.9 L1106.3,126.7 L1106.4,128.3 L1107.9,128.2 L1109.4,128.6 L1110.8,129.8 L1110.9,129.8 L1112.4,133.3 L1113.9,138.1 L1115.4,139.4 L1116.0,141.3 L1116.9,138.0 L1118.4,136.6 L1119.9,134.6 L1121.4,131.0 L1122.8,130.0 L1122.9,130.1 L1124.4,132.3 L1125.9,136.4 L1127.4,139.1 L1128.8,139.7 L1128.9,138.7 L1130.4,134.9 L1131.9,132.1 L1133.4,130.1 L1134.7,128.6 L1134.9,129.0 L1136.4,127.1 L1137.9,123.0 L1139.4,122.6 L1140.0,122.3 L1140.9,122.3 L1142.4,125.0 L1143.9,125.6 L1145.4,125.1 L1146.7,125.9 L1146.9,125.2 L1148.4,124.2 L1149.9,122.4 L1151.4,120.9 L1152.9,116.1 L1154.2,113.2 L1154.4,116.2 L1155.9,116.0 L1157.4,116.7 L1158.9,119.6 L1160.2,118.7 L1160.4,120.7 L1161.9,123.8 L1163.1,124.9 L1163.4,124.2 L1164.9,119.3 L1166.4,117.5 L1166.9,117.0 L1167.9,118.8 L1169.4,120.0 L1170.9,120.2 L1172.1,121.4 L1172.4,122.2 L1173.9,118.4 L1175.4,115.5 L1176.9,113.3 L1178.4,112.6 L1178.8,111.8 L1179.9,111.9 L1181.4,114.7 L1182.9,115.1 L1184.1,114.6 L1184.4,115.9 L1185.9,120.0 L1187.4,121.8 L1187.8,122.5 L1188.9,120.7 L1190.4,119.1 L1191.9,115.5 L1192.3,113.1 L1193.4,117.7 L1194.9,122.6 L1196.0,126.9 L1196.4,128.0 L1197.9,127.1 L1199.4,129.0 L1200.8,129.6 L1200.9,126.5 L1202.0,80.5 L1202.4,78.8 L1203.9,76.0 L1205.0,72.9 L1205.4,74.3 L1206.9,82.2 L1208.4,89.7 L1208.7,90.4 L1209.9,90.0 L1211.4,87.2 L1212.5,84.9 L1212.9,84.7 L1214.4,87.5 L1215.9,89.4 L1217.4,91.0 L1218.5,89.7 L1218.9,87.2 L1220.4,84.7 L1221.9,79.4 L1223.4,77.6 L1223.7,77.1 L1224.9,81.0 L1226.4,87.0 L1226.7,88.8 L1227.9,86.3 L1229.4,85.2 L1230.9,85.3 L1231.9,84.6 L1232.4,81.7 L1233.9,72.1 L1235.4,63.9 L1236.4,58.7 L1236.9,56.4 L1238.4,53.4 L1239.9,49.1 L1240.1,49.6 L1241.4,54.5 L1242.9,62.0 L1243.9,65.1 L1244.4,62.6 L1245.9,55.5 L1246.8,51.8 L1247.4,53.4 L1248.9,52.5 L1249.8,50.8 L1250.3,59.4 L1250.3,60.5" fill="none" stroke="#00bfff" stroke-width="6.9" stroke-linejoin="round" stroke-linecap="round"/>
<g opacity="0.999"><g font-size="44.3"><text x="197.5" y="952.1" text-anchor="middle" textLength="23.5" lengthAdjust="spacingAndGlyphs">0</text><text x="353.5" y="952.1" text-anchor="middle" textLength="99.5" lengthAdjust="spacingAndGlyphs">100k</text><text x="509.5" y="952.1" text-anchor="middle" textLength="100" lengthAdjust="spacingAndGlyphs">200k</text><text x="665.5" y="952.1" text-anchor="middle" textLength="100" lengthAdjust="spacingAndGlyphs">300k</text><text x="821.5" y="952.1" text-anchor="middle" textLength="100" lengthAdjust="spacingAndGlyphs">400k</text><text x="976.5" y="952.1" text-anchor="middle" textLength="100" lengthAdjust="spacingAndGlyphs">500k</text><text x="1132.5" y="952.1" text-anchor="middle" textLength="100" lengthAdjust="spacingAndGlyphs">600k</text><text x="1288.5" y="952.1" text-anchor="middle" textLength="100" lengthAdjust="spacingAndGlyphs">700k</text><text x="120.7" y="30.1" text-anchor="end" textLength="62.0" lengthAdjust="spacingAndGlyphs">0.5</text><text x="120.7" y="212.1" text-anchor="end" textLength="62.0" lengthAdjust="spacingAndGlyphs">0.4</text><text x="120.7" y="393.1" text-anchor="end" textLength="62.0" lengthAdjust="spacingAndGlyphs">0.3</text><text x="120.7" y="575.1" text-anchor="end" textLength="62.0" lengthAdjust="spacingAndGlyphs">0.2</text><text x="120.7" y="757.1" text-anchor="end" textLength="62.0" lengthAdjust="spacingAndGlyphs">0.1</text></g>
<text x="722.5" y="1007.9" font-size="48.5" text-anchor="middle" textLength="243" lengthAdjust="spacingAndGlyphs">Timesteps</text>
<text transform="translate(34.5,453.7) rotate(-90)" font-size="48.5" text-anchor="middle" textLength="314" lengthAdjust="spacingAndGlyphs">Success Rate</text></g>
</svg>
</body></html>
